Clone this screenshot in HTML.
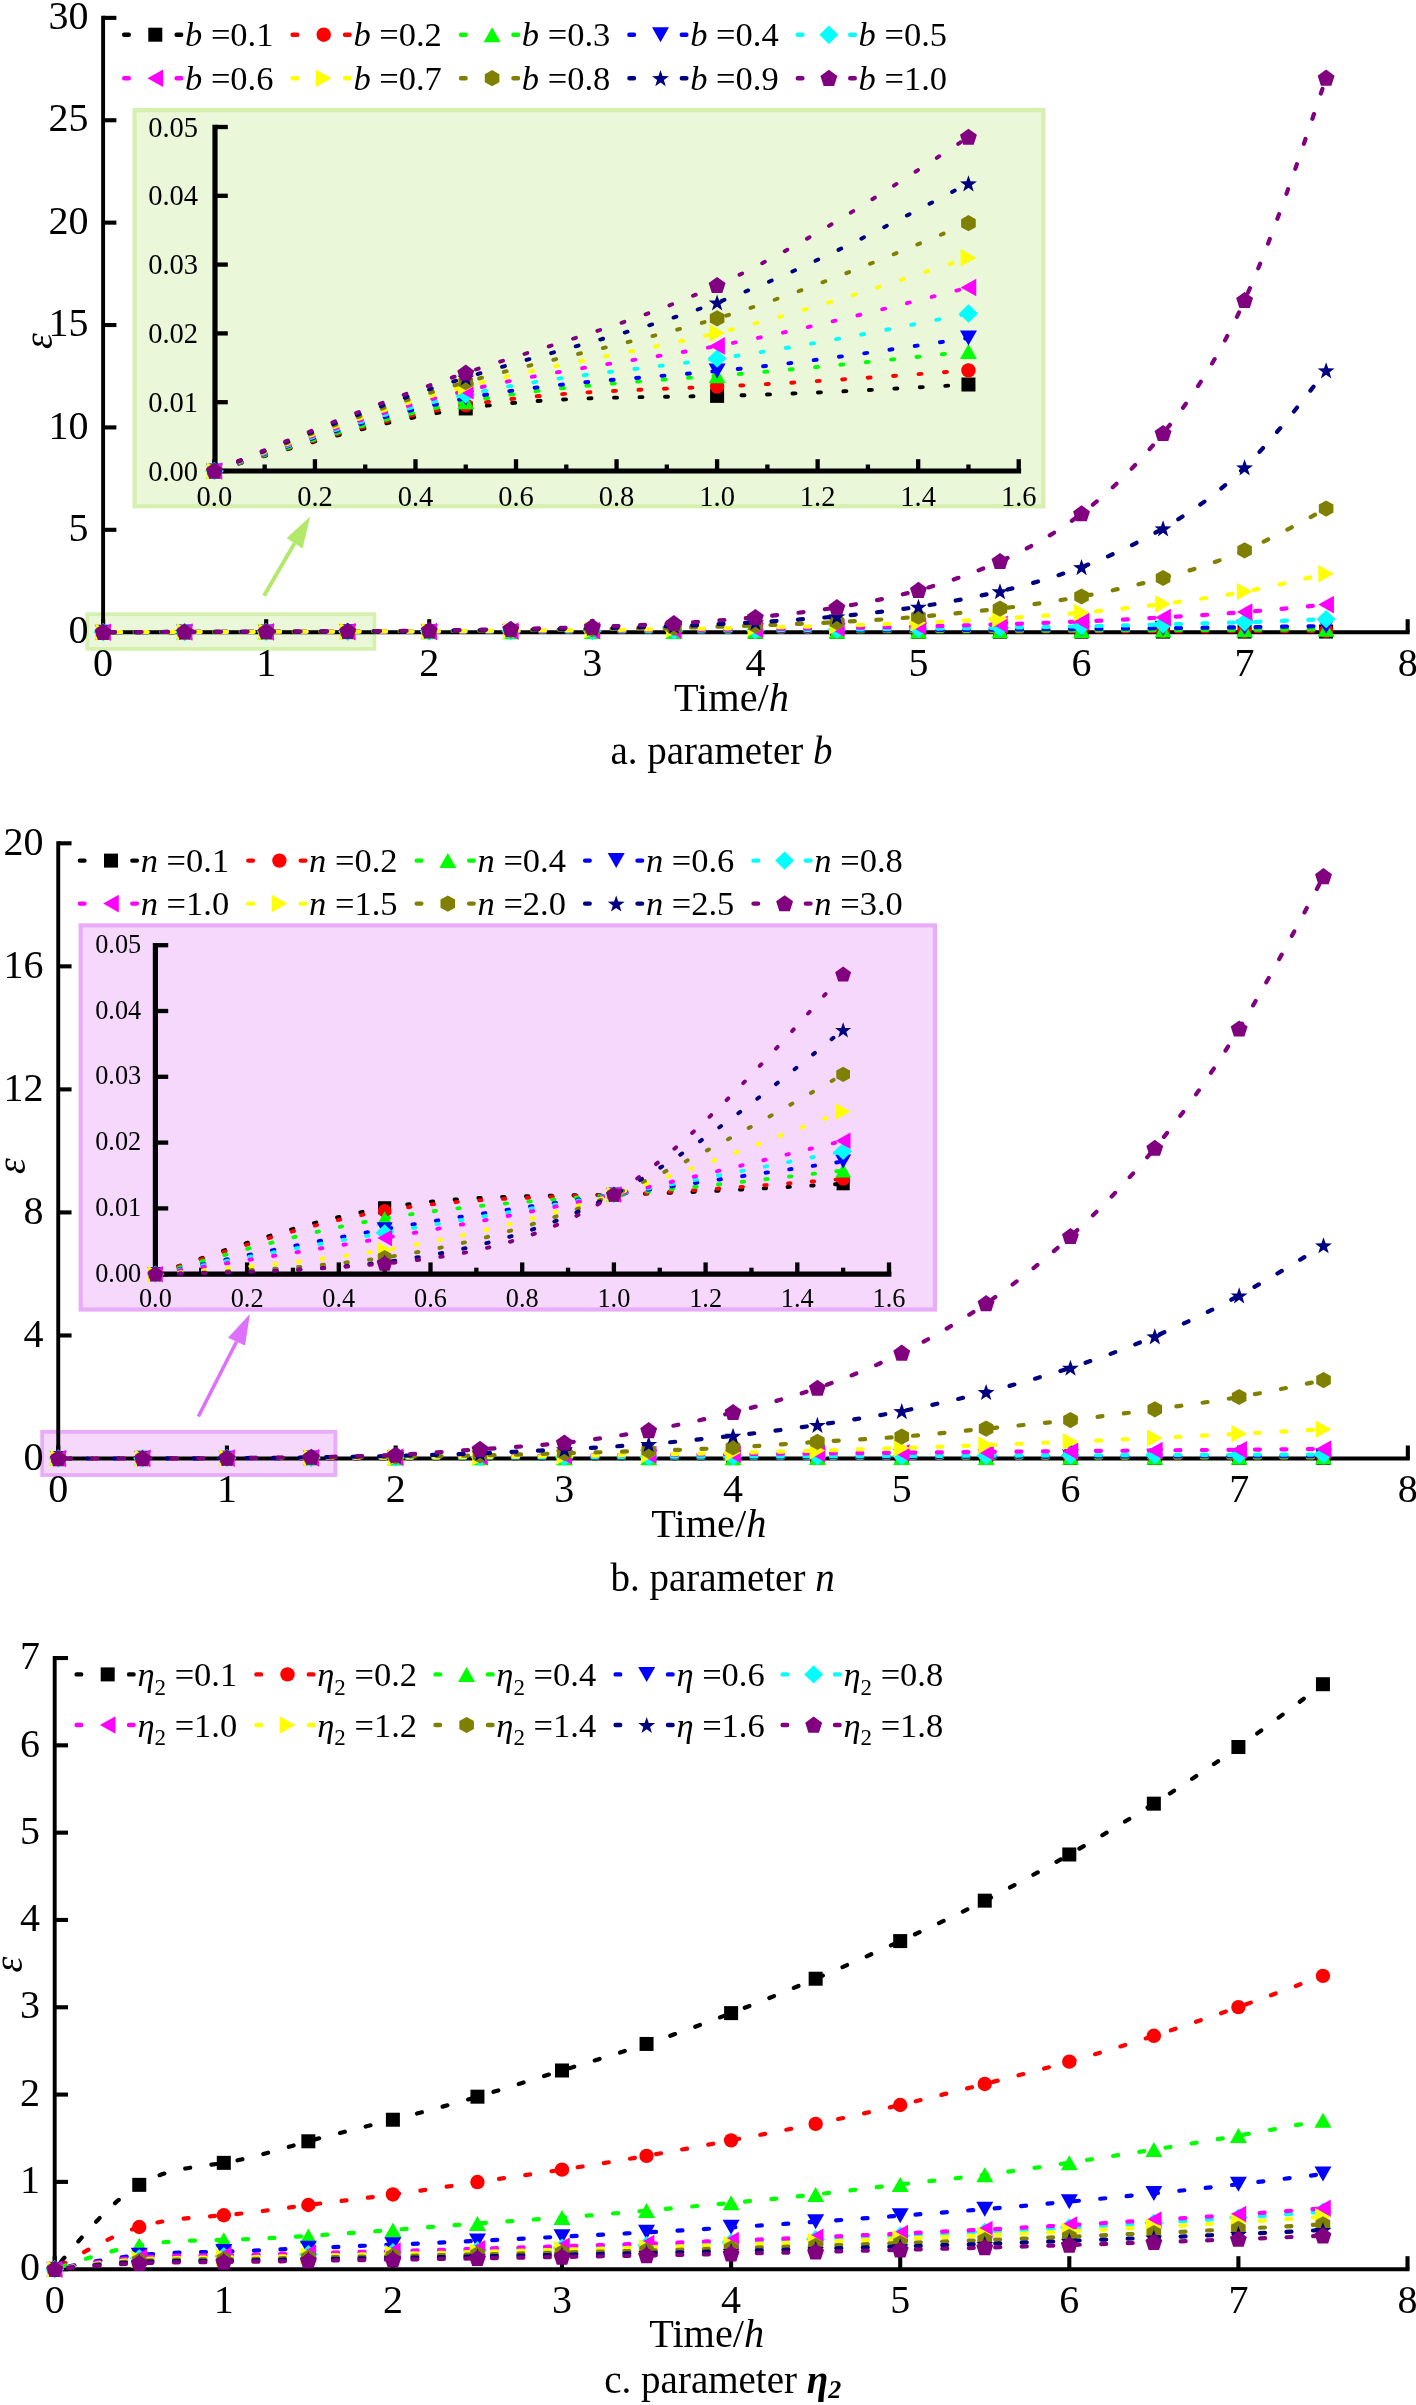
<!DOCTYPE html>
<html><head><meta charset="utf-8"><style>
html,body{margin:0;padding:0;background:#fff;}
svg{display:block;will-change:transform;}
text{font-family:"Liberation Serif", serif;fill:#000;}
</style></head><body>
<svg width="1416" height="2405" viewBox="0 0 1416 2405">
<rect width="1416" height="2405" fill="#fff"/>
<rect x="87.3" y="614.2" width="287.1" height="34.7" fill="#EAF7D8" stroke="#D6F0B0" stroke-width="3.8"/>
<path d="M103.1,15.86 V632.2 H1409.66" stroke="#000" stroke-width="3.9" fill="none" stroke-linejoin="miter"/>
<path d="M103.1,632.2 H116.4" stroke="#000" stroke-width="4.1"/>
<text x="88.6" y="643.4" font-size="40" text-anchor="end">0</text>
<path d="M103.1,529.81 H116.4" stroke="#000" stroke-width="4.1"/>
<text x="88.6" y="541.01" font-size="40" text-anchor="end">5</text>
<path d="M103.1,427.42 H116.4" stroke="#000" stroke-width="4.1"/>
<text x="88.6" y="438.62" font-size="40" text-anchor="end">10</text>
<path d="M103.1,325.03 H116.4" stroke="#000" stroke-width="4.1"/>
<text x="88.6" y="336.23" font-size="40" text-anchor="end">15</text>
<path d="M103.1,222.64 H116.4" stroke="#000" stroke-width="4.1"/>
<text x="88.6" y="233.84" font-size="40" text-anchor="end">20</text>
<path d="M103.1,120.25 H116.4" stroke="#000" stroke-width="4.1"/>
<text x="88.6" y="131.45" font-size="40" text-anchor="end">25</text>
<path d="M103.1,17.86 H116.4" stroke="#000" stroke-width="4.1"/>
<text x="88.6" y="29.06" font-size="40" text-anchor="end">30</text>
<path d="M103.1,632.2 V619.2" stroke="#000" stroke-width="4.1"/>
<text x="103.1" y="676.4" font-size="40" text-anchor="middle">0</text>
<path d="M266.17,632.2 V619.2" stroke="#000" stroke-width="4.1"/>
<text x="266.17" y="676.4" font-size="40" text-anchor="middle">1</text>
<path d="M429.24,632.2 V619.2" stroke="#000" stroke-width="4.1"/>
<text x="429.24" y="676.4" font-size="40" text-anchor="middle">2</text>
<path d="M592.31,632.2 V619.2" stroke="#000" stroke-width="4.1"/>
<text x="592.31" y="676.4" font-size="40" text-anchor="middle">3</text>
<path d="M755.38,632.2 V619.2" stroke="#000" stroke-width="4.1"/>
<text x="755.38" y="676.4" font-size="40" text-anchor="middle">4</text>
<path d="M918.45,632.2 V619.2" stroke="#000" stroke-width="4.1"/>
<text x="918.45" y="676.4" font-size="40" text-anchor="middle">5</text>
<path d="M1081.52,632.2 V619.2" stroke="#000" stroke-width="4.1"/>
<text x="1081.52" y="676.4" font-size="40" text-anchor="middle">6</text>
<path d="M1244.59,632.2 V619.2" stroke="#000" stroke-width="4.1"/>
<text x="1244.59" y="676.4" font-size="40" text-anchor="middle">7</text>
<path d="M1407.66,632.2 V619.2" stroke="#000" stroke-width="4.1"/>
<text x="1407.66" y="676.4" font-size="40" text-anchor="middle">8</text>
<path d="M103.1,632.2C130.28,632.12 157.46,632.05 184.63,632.01C211.81,631.98 238.99,631.98 266.17,631.98C293.35,631.97 320.53,631.95 347.7,631.94C374.88,631.93 402.06,631.93 429.24,631.92C456.42,631.91 483.6,631.89 510.77,631.87C537.95,631.86 565.13,631.85 592.31,631.85C619.49,631.84 646.67,631.83 673.85,631.82C701.02,631.81 728.2,631.8 755.38,631.79C782.56,631.78 809.74,631.78 836.91,631.77C864.09,631.76 891.27,631.75 918.45,631.73C945.63,631.72 972.81,631.71 999.99,631.7C1027.16,631.69 1054.34,631.68 1081.52,631.66C1108.7,631.65 1135.88,631.64 1163.05,631.63C1190.23,631.61 1217.41,631.6 1244.59,631.59C1271.77,631.58 1298.95,631.56 1326.12,631.55" stroke="#000000" stroke-width="4.2" stroke-linecap="round" stroke-dasharray="5.0 21.5" fill="none" stroke-dashoffset="13.6"/>
<rect x="96.1" y="625.2" width="14" height="14" fill="#000000"/>
<rect x="177.63" y="625.01" width="14" height="14" fill="#000000"/>
<rect x="259.17" y="624.98" width="14" height="14" fill="#000000"/>
<rect x="340.7" y="624.94" width="14" height="14" fill="#000000"/>
<rect x="422.24" y="624.92" width="14" height="14" fill="#000000"/>
<rect x="503.77" y="624.87" width="14" height="14" fill="#000000"/>
<rect x="585.31" y="624.85" width="14" height="14" fill="#000000"/>
<rect x="666.85" y="624.82" width="14" height="14" fill="#000000"/>
<rect x="748.38" y="624.79" width="14" height="14" fill="#000000"/>
<rect x="829.91" y="624.77" width="14" height="14" fill="#000000"/>
<rect x="911.45" y="624.73" width="14" height="14" fill="#000000"/>
<rect x="992.99" y="624.7" width="14" height="14" fill="#000000"/>
<rect x="1074.52" y="624.66" width="14" height="14" fill="#000000"/>
<rect x="1156.05" y="624.63" width="14" height="14" fill="#000000"/>
<rect x="1237.59" y="624.59" width="14" height="14" fill="#000000"/>
<rect x="1319.12" y="624.55" width="14" height="14" fill="#000000"/>
<path d="M103.1,632.2C130.28,632.12 157.46,632.04 184.63,632C211.81,631.96 238.99,631.96 266.17,631.95C293.35,631.94 320.53,631.91 347.7,631.9C374.88,631.89 402.06,631.88 429.24,631.86C456.42,631.84 483.6,631.8 510.77,631.78C537.95,631.75 565.13,631.74 592.31,631.72C619.49,631.71 646.67,631.69 673.85,631.66C701.02,631.64 728.2,631.62 755.38,631.59C782.56,631.57 809.74,631.55 836.91,631.52C864.09,631.5 891.27,631.46 918.45,631.43C945.63,631.4 972.81,631.36 999.99,631.33C1027.16,631.3 1054.34,631.26 1081.52,631.22C1108.7,631.19 1135.88,631.14 1163.05,631.1C1190.23,631.06 1217.41,631.02 1244.59,630.97C1271.77,630.93 1298.95,630.88 1326.12,630.83" stroke="#FF0000" stroke-width="4.2" stroke-linecap="round" stroke-dasharray="5.0 21.5" fill="none" stroke-dashoffset="13.6"/>
<circle cx="103.1" cy="632.2" r="7.2" fill="#FF0000"/>
<circle cx="184.63" cy="632" r="7.2" fill="#FF0000"/>
<circle cx="266.17" cy="631.95" r="7.2" fill="#FF0000"/>
<circle cx="347.7" cy="631.9" r="7.2" fill="#FF0000"/>
<circle cx="429.24" cy="631.86" r="7.2" fill="#FF0000"/>
<circle cx="510.77" cy="631.78" r="7.2" fill="#FF0000"/>
<circle cx="592.31" cy="631.72" r="7.2" fill="#FF0000"/>
<circle cx="673.85" cy="631.66" r="7.2" fill="#FF0000"/>
<circle cx="755.38" cy="631.59" r="7.2" fill="#FF0000"/>
<circle cx="836.91" cy="631.52" r="7.2" fill="#FF0000"/>
<circle cx="918.45" cy="631.43" r="7.2" fill="#FF0000"/>
<circle cx="999.99" cy="631.33" r="7.2" fill="#FF0000"/>
<circle cx="1081.52" cy="631.22" r="7.2" fill="#FF0000"/>
<circle cx="1163.05" cy="631.1" r="7.2" fill="#FF0000"/>
<circle cx="1244.59" cy="630.97" r="7.2" fill="#FF0000"/>
<circle cx="1326.12" cy="630.83" r="7.2" fill="#FF0000"/>
<path d="M103.1,632.2C130.28,632.12 157.46,632.04 184.63,631.99C211.81,631.95 238.99,631.94 266.17,631.92C293.35,631.9 320.53,631.86 347.7,631.84C374.88,631.82 402.06,631.81 429.24,631.78C456.42,631.75 483.6,631.7 510.77,631.66C537.95,631.62 565.13,631.59 592.31,631.56C619.49,631.52 646.67,631.48 673.85,631.44C701.02,631.4 728.2,631.35 755.38,631.3C782.56,631.25 809.74,631.2 836.91,631.14C864.09,631.08 891.27,631.01 918.45,630.93C945.63,630.86 972.81,630.78 999.99,630.69C1027.16,630.61 1054.34,630.52 1081.52,630.42C1108.7,630.32 1135.88,630.21 1163.05,630.1C1190.23,629.98 1217.41,629.86 1244.59,629.73C1271.77,629.59 1298.95,629.44 1326.12,629.29" stroke="#00FF00" stroke-width="4.2" stroke-linecap="round" stroke-dasharray="5.0 21.5" fill="none" stroke-dashoffset="13.6"/>
<polygon points="103.1,624.7 111.6,639.7 94.6,639.7" fill="#00FF00"/>
<polygon points="184.63,624.49 193.13,639.49 176.13,639.49" fill="#00FF00"/>
<polygon points="266.17,624.42 274.67,639.42 257.67,639.42" fill="#00FF00"/>
<polygon points="347.7,624.34 356.2,639.34 339.2,639.34" fill="#00FF00"/>
<polygon points="429.24,624.28 437.74,639.28 420.74,639.28" fill="#00FF00"/>
<polygon points="510.77,624.16 519.27,639.16 502.27,639.16" fill="#00FF00"/>
<polygon points="592.31,624.06 600.81,639.06 583.81,639.06" fill="#00FF00"/>
<polygon points="673.85,623.94 682.35,638.94 665.35,638.94" fill="#00FF00"/>
<polygon points="755.38,623.8 763.88,638.8 746.88,638.8" fill="#00FF00"/>
<polygon points="836.91,623.64 845.41,638.64 828.41,638.64" fill="#00FF00"/>
<polygon points="918.45,623.43 926.95,638.43 909.95,638.43" fill="#00FF00"/>
<polygon points="999.99,623.19 1008.49,638.19 991.49,638.19" fill="#00FF00"/>
<polygon points="1081.52,622.92 1090.02,637.92 1073.02,637.92" fill="#00FF00"/>
<polygon points="1163.05,622.6 1171.55,637.6 1154.55,637.6" fill="#00FF00"/>
<polygon points="1244.59,622.23 1253.09,637.23 1236.09,637.23" fill="#00FF00"/>
<polygon points="1326.12,621.79 1334.62,636.79 1317.62,636.79" fill="#00FF00"/>
<path d="M103.1,632.2C130.28,632.12 157.46,632.03 184.63,631.98C211.81,631.94 238.99,631.93 266.17,631.9C293.35,631.88 320.53,631.84 347.7,631.8C374.88,631.77 402.06,631.74 429.24,631.69C456.42,631.64 483.6,631.57 510.77,631.5C537.95,631.44 565.13,631.39 592.31,631.33C619.49,631.27 646.67,631.2 673.85,631.12C701.02,631.04 728.2,630.95 755.38,630.85C782.56,630.75 809.74,630.65 836.91,630.53C864.09,630.41 891.27,630.27 918.45,630.11C945.63,629.95 972.81,629.78 999.99,629.59C1027.16,629.4 1054.34,629.19 1081.52,628.96C1108.7,628.73 1135.88,628.46 1163.05,628.17C1190.23,627.89 1217.41,627.58 1244.59,627.22C1271.77,626.86 1298.95,626.45 1326.12,626.04" stroke="#0000FF" stroke-width="4.2" stroke-linecap="round" stroke-dasharray="5.0 21.5" fill="none" stroke-dashoffset="13.6"/>
<polygon points="103.1,639.7 111.6,624.7 94.6,624.7" fill="#0000FF"/>
<polygon points="184.63,639.48 193.13,624.48 176.13,624.48" fill="#0000FF"/>
<polygon points="266.17,639.4 274.67,624.4 257.67,624.4" fill="#0000FF"/>
<polygon points="347.7,639.3 356.2,624.3 339.2,624.3" fill="#0000FF"/>
<polygon points="429.24,639.19 437.74,624.19 420.74,624.19" fill="#0000FF"/>
<polygon points="510.77,639 519.27,624 502.27,624" fill="#0000FF"/>
<polygon points="592.31,638.83 600.81,623.83 583.81,623.83" fill="#0000FF"/>
<polygon points="673.85,638.62 682.35,623.62 665.35,623.62" fill="#0000FF"/>
<polygon points="755.38,638.35 763.88,623.35 746.88,623.35" fill="#0000FF"/>
<polygon points="836.91,638.03 845.41,623.03 828.41,623.03" fill="#0000FF"/>
<polygon points="918.45,637.61 926.95,622.61 909.95,622.61" fill="#0000FF"/>
<polygon points="999.99,637.09 1008.49,622.09 991.49,622.09" fill="#0000FF"/>
<polygon points="1081.52,636.46 1090.02,621.46 1073.02,621.46" fill="#0000FF"/>
<polygon points="1163.05,635.67 1171.55,620.67 1154.55,620.67" fill="#0000FF"/>
<polygon points="1244.59,634.72 1253.09,619.72 1236.09,619.72" fill="#0000FF"/>
<polygon points="1326.12,633.54 1334.62,618.54 1317.62,618.54" fill="#0000FF"/>
<path d="M103.1,632.2C130.28,632.11 157.46,632.03 184.63,631.97C211.81,631.92 238.99,631.9 266.17,631.87C293.35,631.83 320.53,631.78 347.7,631.73C374.88,631.69 402.06,631.65 429.24,631.58C456.42,631.51 483.6,631.4 510.77,631.31C537.95,631.21 565.13,631.13 592.31,631.03C619.49,630.92 646.67,630.81 673.85,630.67C701.02,630.53 728.2,630.36 755.38,630.19C782.56,630.01 809.74,629.82 836.91,629.59C864.09,629.35 891.27,629.08 918.45,628.76C945.63,628.44 972.81,628.07 999.99,627.67C1027.16,627.27 1054.34,626.82 1081.52,626.3C1108.7,625.77 1135.88,625.16 1163.05,624.49C1190.23,623.82 1217.41,623.08 1244.59,622.18C1271.77,621.28 1298.95,620.22 1326.12,619.16" stroke="#00FFFF" stroke-width="4.2" stroke-linecap="round" stroke-dasharray="5.0 21.5" fill="none" stroke-dashoffset="13.6"/>
<polygon points="103.1,623 112.6,632.2 103.1,641.4 93.6,632.2" fill="#00FFFF"/>
<polygon points="184.63,622.77 194.13,631.97 184.63,641.17 175.13,631.97" fill="#00FFFF"/>
<polygon points="266.17,622.67 275.67,631.87 266.17,641.07 256.67,631.87" fill="#00FFFF"/>
<polygon points="347.7,622.53 357.2,631.73 347.7,640.93 338.2,631.73" fill="#00FFFF"/>
<polygon points="429.24,622.38 438.74,631.58 429.24,640.78 419.74,631.58" fill="#00FFFF"/>
<polygon points="510.77,622.11 520.27,631.31 510.77,640.51 501.27,631.31" fill="#00FFFF"/>
<polygon points="592.31,621.83 601.81,631.03 592.31,640.23 582.81,631.03" fill="#00FFFF"/>
<polygon points="673.85,621.47 683.35,630.67 673.85,639.87 664.35,630.67" fill="#00FFFF"/>
<polygon points="755.38,620.99 764.88,630.19 755.38,639.39 745.88,630.19" fill="#00FFFF"/>
<polygon points="836.91,620.39 846.41,629.59 836.91,638.79 827.41,629.59" fill="#00FFFF"/>
<polygon points="918.45,619.56 927.95,628.76 918.45,637.96 908.95,628.76" fill="#00FFFF"/>
<polygon points="999.99,618.47 1009.49,627.67 999.99,636.87 990.49,627.67" fill="#00FFFF"/>
<polygon points="1081.52,617.1 1091.02,626.3 1081.52,635.5 1072.02,626.3" fill="#00FFFF"/>
<polygon points="1163.05,615.29 1172.55,624.49 1163.05,633.69 1153.55,624.49" fill="#00FFFF"/>
<polygon points="1244.59,612.98 1254.09,622.18 1244.59,631.38 1235.09,622.18" fill="#00FFFF"/>
<polygon points="1326.12,609.96 1335.62,619.16 1326.12,628.36 1316.62,619.16" fill="#00FFFF"/>
<path d="M103.1,632.2C130.28,632.11 157.46,632.02 184.63,631.96C211.81,631.9 238.99,631.87 266.17,631.83C293.35,631.78 320.53,631.71 347.7,631.65C374.88,631.59 402.06,631.54 429.24,631.44C456.42,631.34 483.6,631.19 510.77,631.05C537.95,630.91 565.13,630.78 592.31,630.61C619.49,630.45 646.67,630.26 673.85,630.03C701.02,629.79 728.2,629.51 755.38,629.2C782.56,628.88 809.74,628.54 836.91,628.1C864.09,627.67 891.27,627.15 918.45,626.52C945.63,625.9 972.81,625.18 999.99,624.35C1027.16,623.52 1054.34,622.59 1081.52,621.45C1108.7,620.31 1135.88,618.96 1163.05,617.43C1190.23,615.9 1217.41,614.18 1244.59,612.02C1271.77,609.85 1298.95,607.23 1326.12,604.6" stroke="#FF00FF" stroke-width="4.2" stroke-linecap="round" stroke-dasharray="5.0 21.5" fill="none" stroke-dashoffset="13.59"/>
<polygon points="95.3,632.2 110.9,623.4 110.9,641" fill="#FF00FF"/>
<polygon points="176.83,631.96 192.44,623.16 192.44,640.76" fill="#FF00FF"/>
<polygon points="258.37,631.83 273.97,623.03 273.97,640.63" fill="#FF00FF"/>
<polygon points="339.9,631.65 355.5,622.85 355.5,640.45" fill="#FF00FF"/>
<polygon points="421.44,631.44 437.04,622.64 437.04,640.24" fill="#FF00FF"/>
<polygon points="502.97,631.05 518.57,622.25 518.57,639.85" fill="#FF00FF"/>
<polygon points="584.51,630.61 600.11,621.81 600.11,639.41" fill="#FF00FF"/>
<polygon points="666.05,630.03 681.64,621.23 681.64,638.83" fill="#FF00FF"/>
<polygon points="747.58,629.2 763.18,620.4 763.18,638" fill="#FF00FF"/>
<polygon points="829.12,628.1 844.71,619.3 844.71,636.9" fill="#FF00FF"/>
<polygon points="910.65,626.52 926.25,617.72 926.25,635.32" fill="#FF00FF"/>
<polygon points="992.19,624.35 1007.78,615.55 1007.78,633.15" fill="#FF00FF"/>
<polygon points="1073.72,621.45 1089.32,612.65 1089.32,630.25" fill="#FF00FF"/>
<polygon points="1155.25,617.43 1170.85,608.63 1170.85,626.23" fill="#FF00FF"/>
<polygon points="1236.79,612.02 1252.39,603.22 1252.39,620.82" fill="#FF00FF"/>
<polygon points="1318.32,604.6 1333.92,595.8 1333.92,613.4" fill="#FF00FF"/>
<path d="M103.1,632.2C130.28,632.11 157.46,632.01 184.63,631.95C211.81,631.88 238.99,631.85 266.17,631.79C293.35,631.73 320.53,631.65 347.7,631.57C374.88,631.48 402.06,631.41 429.24,631.27C456.42,631.13 483.6,630.93 510.77,630.73C537.95,630.52 565.13,630.32 592.31,630.06C619.49,629.8 646.67,629.5 673.85,629.12C701.02,628.73 728.2,628.26 755.38,627.72C782.56,627.18 809.74,626.56 836.91,625.77C864.09,624.98 891.27,624.02 918.45,622.84C945.63,621.66 972.81,620.25 999.99,618.59C1027.16,616.93 1054.34,615.01 1081.52,612.6C1108.7,610.19 1135.88,607.29 1163.05,603.91C1190.23,600.52 1217.41,596.66 1244.59,591.56C1271.77,586.45 1298.95,580.12 1326.12,573.78" stroke="#FFFF00" stroke-width="4.2" stroke-linecap="round" stroke-dasharray="5.0 21.5" fill="none" stroke-dashoffset="13.58"/>
<polygon points="110.9,632.2 95.3,623.4 95.3,641" fill="#FFFF00"/>
<polygon points="192.44,631.95 176.83,623.15 176.83,640.75" fill="#FFFF00"/>
<polygon points="273.97,631.79 258.37,622.99 258.37,640.59" fill="#FFFF00"/>
<polygon points="355.5,631.57 339.9,622.77 339.9,640.37" fill="#FFFF00"/>
<polygon points="437.04,631.27 421.44,622.47 421.44,640.07" fill="#FFFF00"/>
<polygon points="518.57,630.73 502.97,621.93 502.97,639.53" fill="#FFFF00"/>
<polygon points="600.11,630.06 584.51,621.26 584.51,638.86" fill="#FFFF00"/>
<polygon points="681.64,629.12 666.05,620.32 666.05,637.92" fill="#FFFF00"/>
<polygon points="763.18,627.72 747.58,618.92 747.58,636.52" fill="#FFFF00"/>
<polygon points="844.71,625.77 829.12,616.97 829.12,634.57" fill="#FFFF00"/>
<polygon points="926.25,622.84 910.65,614.04 910.65,631.64" fill="#FFFF00"/>
<polygon points="1007.78,618.59 992.19,609.79 992.19,627.39" fill="#FFFF00"/>
<polygon points="1089.32,612.6 1073.72,603.8 1073.72,621.4" fill="#FFFF00"/>
<polygon points="1170.85,603.91 1155.25,595.11 1155.25,612.71" fill="#FFFF00"/>
<polygon points="1252.39,591.56 1236.79,582.76 1236.79,600.36" fill="#FFFF00"/>
<polygon points="1333.92,573.78 1318.32,564.98 1318.32,582.58" fill="#FFFF00"/>
<path d="M103.1,632.2C130.28,632.1 157.46,632.01 184.63,631.94C211.81,631.87 238.99,631.82 266.17,631.75C293.35,631.67 320.53,631.57 347.7,631.46C374.88,631.36 402.06,631.25 429.24,631.06C456.42,630.87 483.6,630.6 510.77,630.31C537.95,630.02 565.13,629.7 592.31,629.31C619.49,628.92 646.67,628.44 673.85,627.82C701.02,627.2 728.2,626.44 755.38,625.52C782.56,624.6 809.74,623.52 836.91,622.12C864.09,620.71 891.27,618.98 918.45,616.77C945.63,614.56 972.81,611.88 999.99,608.62C1027.16,605.35 1054.34,601.49 1081.52,596.49C1108.7,591.49 1135.88,585.34 1163.05,578C1190.23,570.66 1217.41,562.13 1244.59,550.35C1271.77,538.57 1298.95,523.55 1326.12,508.53" stroke="#808000" stroke-width="4.2" stroke-linecap="round" stroke-dasharray="5.0 21.5" fill="none" stroke-dashoffset="21.63"/>
<polygon points="103.1,624.1 110.4,628.15 110.4,636.25 103.1,640.3 95.8,636.25 95.8,628.15" fill="#808000"/>
<polygon points="184.63,623.84 191.94,627.89 191.94,635.99 184.63,640.04 177.33,635.99 177.33,627.89" fill="#808000"/>
<polygon points="266.17,623.65 273.47,627.7 273.47,635.8 266.17,639.85 258.87,635.8 258.87,627.7" fill="#808000"/>
<polygon points="347.7,623.36 355,627.41 355,635.51 347.7,639.56 340.4,635.51 340.4,627.41" fill="#808000"/>
<polygon points="429.24,622.96 436.54,627.01 436.54,635.11 429.24,639.16 421.94,635.11 421.94,627.01" fill="#808000"/>
<polygon points="510.77,622.21 518.07,626.26 518.07,634.36 510.77,638.41 503.47,634.36 503.47,626.26" fill="#808000"/>
<polygon points="592.31,621.21 599.61,625.26 599.61,633.36 592.31,637.41 585.01,633.36 585.01,625.26" fill="#808000"/>
<polygon points="673.85,619.72 681.14,623.77 681.14,631.87 673.85,635.92 666.55,631.87 666.55,623.77" fill="#808000"/>
<polygon points="755.38,617.42 762.68,621.47 762.68,629.57 755.38,633.62 748.08,629.57 748.08,621.47" fill="#808000"/>
<polygon points="836.91,614.02 844.21,618.07 844.21,626.17 836.91,630.22 829.62,626.17 829.62,618.07" fill="#808000"/>
<polygon points="918.45,608.67 925.75,612.72 925.75,620.82 918.45,624.87 911.15,620.82 911.15,612.72" fill="#808000"/>
<polygon points="999.99,600.52 1007.28,604.57 1007.28,612.67 999.99,616.72 992.69,612.67 992.69,604.57" fill="#808000"/>
<polygon points="1081.52,588.39 1088.82,592.44 1088.82,600.54 1081.52,604.59 1074.22,600.54 1074.22,592.44" fill="#808000"/>
<polygon points="1163.05,569.9 1170.35,573.95 1170.35,582.05 1163.05,586.1 1155.75,582.05 1155.75,573.95" fill="#808000"/>
<polygon points="1244.59,542.25 1251.89,546.3 1251.89,554.4 1244.59,558.45 1237.29,554.4 1237.29,546.3" fill="#808000"/>
<polygon points="1326.12,500.43 1333.42,504.48 1333.42,512.58 1326.12,516.63 1318.82,512.58 1318.82,504.48" fill="#808000"/>
<path d="M103.1,632.2C130.28,632.1 157.46,632 184.63,631.92C211.81,631.84 238.99,631.79 266.17,631.7C293.35,631.61 320.53,631.48 347.7,631.34C374.88,631.21 402.06,631.07 429.24,630.81C456.42,630.56 483.6,630.19 510.77,629.77C537.95,629.36 565.13,628.9 592.31,628.3C619.49,627.7 646.67,626.97 673.85,625.99C701.02,625 728.2,623.77 755.38,622.23C782.56,620.7 809.74,618.86 836.91,616.39C864.09,613.92 891.27,610.83 918.45,606.76C945.63,602.69 972.81,597.65 999.99,591.32C1027.16,584.99 1054.34,577.37 1081.52,567.14C1108.7,556.91 1135.88,544.06 1163.05,528.38C1190.23,512.7 1217.41,494.18 1244.59,467.38C1271.77,440.57 1298.95,405.48 1326.12,370.38" stroke="#000080" stroke-width="4.2" stroke-linecap="round" stroke-dasharray="5.0 21.5" fill="none" stroke-dashoffset="20.43"/>
<polygon points="103.1,624.1 105.19,630.12 111.56,630.25 106.49,634.1 108.33,640.2 103.1,636.56 97.87,640.2 99.71,634.1 94.64,630.25 101.01,630.12" fill="#000080"/>
<polygon points="184.63,623.82 186.73,629.84 193.1,629.97 188.02,633.82 189.87,639.92 184.63,636.28 179.4,639.92 181.25,633.82 176.17,629.97 182.54,629.84" fill="#000080"/>
<polygon points="266.17,623.6 268.26,629.62 274.63,629.75 269.56,633.6 271.4,639.7 266.17,636.06 260.94,639.7 262.78,633.6 257.71,629.75 264.08,629.62" fill="#000080"/>
<polygon points="347.7,623.24 349.8,629.26 356.17,629.39 351.09,633.24 352.94,639.34 347.7,635.7 342.47,639.34 344.32,633.24 339.24,629.39 345.61,629.26" fill="#000080"/>
<polygon points="429.24,622.71 431.33,628.73 437.7,628.86 432.63,632.71 434.47,638.81 429.24,635.17 424.01,638.81 425.85,632.71 420.78,628.86 427.15,628.73" fill="#000080"/>
<polygon points="510.77,621.67 512.87,627.69 519.24,627.82 514.16,631.67 516.01,637.77 510.77,634.13 505.54,637.77 507.39,631.67 502.31,627.82 508.68,627.69" fill="#000080"/>
<polygon points="592.31,620.2 594.4,626.22 600.77,626.35 595.7,630.2 597.54,636.3 592.31,632.66 587.08,636.3 588.92,630.2 583.85,626.35 590.22,626.22" fill="#000080"/>
<polygon points="673.85,617.89 675.94,623.91 682.31,624.04 677.23,627.89 679.08,633.99 673.85,630.35 668.61,633.99 670.46,627.89 665.38,624.04 671.75,623.91" fill="#000080"/>
<polygon points="755.38,614.13 757.47,620.15 763.84,620.28 758.77,624.13 760.61,630.23 755.38,626.59 750.15,630.23 751.99,624.13 746.92,620.28 753.29,620.15" fill="#000080"/>
<polygon points="836.91,608.29 839.01,614.31 845.38,614.44 840.3,618.29 842.15,624.39 836.91,620.75 831.68,624.39 833.53,618.29 828.45,614.44 834.82,614.31" fill="#000080"/>
<polygon points="918.45,598.66 920.54,604.68 926.91,604.81 921.84,608.66 923.68,614.76 918.45,611.12 913.22,614.76 915.06,608.66 909.99,604.81 916.36,604.68" fill="#000080"/>
<polygon points="999.99,583.22 1002.08,589.24 1008.45,589.37 1003.37,593.22 1005.22,599.32 999.99,595.68 994.75,599.32 996.6,593.22 991.52,589.37 997.89,589.24" fill="#000080"/>
<polygon points="1081.52,559.04 1083.61,565.06 1089.98,565.19 1084.91,569.04 1086.75,575.14 1081.52,571.5 1076.29,575.14 1078.13,569.04 1073.06,565.19 1079.43,565.06" fill="#000080"/>
<polygon points="1163.05,520.28 1165.15,526.3 1171.52,526.43 1166.44,530.28 1168.29,536.38 1163.05,532.74 1157.82,536.38 1159.67,530.28 1154.59,526.43 1160.96,526.3" fill="#000080"/>
<polygon points="1244.59,459.28 1246.68,465.3 1253.05,465.43 1247.98,469.28 1249.82,475.38 1244.59,471.74 1239.36,475.38 1241.2,469.28 1236.13,465.43 1242.5,465.3" fill="#000080"/>
<polygon points="1326.12,362.28 1328.22,368.3 1334.59,368.43 1329.51,372.28 1331.36,378.38 1326.12,374.74 1320.89,378.38 1322.74,372.28 1317.66,368.43 1324.03,368.3" fill="#000080"/>
<path d="M103.1,632.2C130.28,632.1 157.46,631.99 184.63,631.91C211.81,631.82 238.99,631.76 266.17,631.65C293.35,631.54 320.53,631.38 347.7,631.21C374.88,631.03 402.06,630.85 429.24,630.51C456.42,630.16 483.6,629.67 510.77,629.08C537.95,628.5 565.13,627.83 592.31,626.94C619.49,626.04 646.67,624.93 673.85,623.38C701.02,621.84 728.2,619.87 755.38,617.33C782.56,614.79 809.74,611.69 836.91,607.41C864.09,603.13 891.27,597.67 918.45,590.26C945.63,582.84 972.81,573.47 999.99,561.35C1027.16,549.22 1054.34,534.35 1081.52,513.65C1108.7,492.95 1135.88,466.42 1163.05,433.34C1190.23,400.25 1217.41,360.61 1244.59,300.29C1271.77,239.96 1298.95,158.95 1326.12,77.93" stroke="#800080" stroke-width="4.2" stroke-linecap="round" stroke-dasharray="5.0 21.5" fill="none" stroke-dashoffset="19.46"/>
<polygon points="103.1,623.8 111.56,629.95 108.33,639.9 97.87,639.9 94.64,629.95" fill="#800080"/>
<polygon points="184.63,623.51 193.1,629.66 189.87,639.61 179.4,639.61 176.17,629.66" fill="#800080"/>
<polygon points="266.17,623.25 274.63,629.4 271.4,639.35 260.94,639.35 257.71,629.4" fill="#800080"/>
<polygon points="347.7,622.81 356.17,628.96 352.94,638.91 342.47,638.91 339.24,628.96" fill="#800080"/>
<polygon points="429.24,622.11 437.7,628.26 434.47,638.21 424.01,638.21 420.78,628.26" fill="#800080"/>
<polygon points="510.77,620.68 519.24,626.83 516.01,636.78 505.54,636.78 502.31,626.83" fill="#800080"/>
<polygon points="592.31,618.54 600.77,624.68 597.54,634.64 587.08,634.64 583.85,624.68" fill="#800080"/>
<polygon points="673.85,614.98 682.31,621.13 679.08,631.08 668.61,631.08 665.38,621.13" fill="#800080"/>
<polygon points="755.38,608.93 763.84,615.08 760.61,625.03 750.15,625.03 746.92,615.08" fill="#800080"/>
<polygon points="836.91,599.01 845.38,605.16 842.15,615.11 831.68,615.11 828.45,605.16" fill="#800080"/>
<polygon points="918.45,581.86 926.91,588.01 923.68,597.96 913.22,597.96 909.99,588.01" fill="#800080"/>
<polygon points="999.99,552.95 1008.45,559.1 1005.22,569.05 994.75,569.05 991.52,559.1" fill="#800080"/>
<polygon points="1081.52,505.25 1089.98,511.4 1086.75,521.35 1076.29,521.35 1073.06,511.4" fill="#800080"/>
<polygon points="1163.05,424.94 1171.52,431.09 1168.29,441.04 1157.82,441.04 1154.59,431.09" fill="#800080"/>
<polygon points="1244.59,291.89 1253.05,298.04 1249.82,307.99 1239.36,307.99 1236.13,298.04" fill="#800080"/>
<polygon points="1326.12,69.53 1334.59,75.68 1331.36,85.63 1320.89,85.63 1317.66,75.68" fill="#800080"/>
<rect x="134.6" y="110.1" width="908.8" height="396.2" fill="#EAF7D8" stroke="#D6F0B0" stroke-width="4.2"/>
<path d="M215,124.8 V471 H1021.12" stroke="#000" stroke-width="5.2" fill="none"/>
<path d="M215,471 H227.8" stroke="#000" stroke-width="4.3"/>
<text x="198" y="480.5" font-size="28.5" text-anchor="end">0.00</text>
<path d="M215,402.2 H227.8" stroke="#000" stroke-width="4.3"/>
<text x="198" y="411.7" font-size="28.5" text-anchor="end">0.01</text>
<path d="M215,333.4 H227.8" stroke="#000" stroke-width="4.3"/>
<text x="198" y="342.9" font-size="28.5" text-anchor="end">0.02</text>
<path d="M215,264.6 H227.8" stroke="#000" stroke-width="4.3"/>
<text x="198" y="274.1" font-size="28.5" text-anchor="end">0.03</text>
<path d="M215,195.8 H227.8" stroke="#000" stroke-width="4.3"/>
<text x="198" y="205.3" font-size="28.5" text-anchor="end">0.04</text>
<path d="M215,127 H227.8" stroke="#000" stroke-width="4.3"/>
<text x="198" y="136.5" font-size="28.5" text-anchor="end">0.05</text>
<path d="M214.4,471 V459.2" stroke="#000" stroke-width="4.3"/>
<text x="214.4" y="506.3" font-size="28.5" text-anchor="middle">0.0</text>
<path d="M264.67,471 V464.5" stroke="#000" stroke-width="4.3"/>
<path d="M314.94,471 V459.2" stroke="#000" stroke-width="4.3"/>
<text x="314.94" y="506.3" font-size="28.5" text-anchor="middle">0.2</text>
<path d="M365.21,471 V464.5" stroke="#000" stroke-width="4.3"/>
<path d="M415.48,471 V459.2" stroke="#000" stroke-width="4.3"/>
<text x="415.48" y="506.3" font-size="28.5" text-anchor="middle">0.4</text>
<path d="M465.75,471 V464.5" stroke="#000" stroke-width="4.3"/>
<path d="M516.02,471 V459.2" stroke="#000" stroke-width="4.3"/>
<text x="516.02" y="506.3" font-size="28.5" text-anchor="middle">0.6</text>
<path d="M566.29,471 V464.5" stroke="#000" stroke-width="4.3"/>
<path d="M616.56,471 V459.2" stroke="#000" stroke-width="4.3"/>
<text x="616.56" y="506.3" font-size="28.5" text-anchor="middle">0.8</text>
<path d="M666.83,471 V464.5" stroke="#000" stroke-width="4.3"/>
<path d="M717.1,471 V459.2" stroke="#000" stroke-width="4.3"/>
<text x="717.1" y="506.3" font-size="28.5" text-anchor="middle">1.0</text>
<path d="M767.37,471 V464.5" stroke="#000" stroke-width="4.3"/>
<path d="M817.64,471 V459.2" stroke="#000" stroke-width="4.3"/>
<text x="817.64" y="506.3" font-size="28.5" text-anchor="middle">1.2</text>
<path d="M867.91,471 V464.5" stroke="#000" stroke-width="4.3"/>
<path d="M918.18,471 V459.2" stroke="#000" stroke-width="4.3"/>
<text x="918.18" y="506.3" font-size="28.5" text-anchor="middle">1.4</text>
<path d="M968.45,471 V464.5" stroke="#000" stroke-width="4.3"/>
<path d="M1018.72,471 V459.2" stroke="#000" stroke-width="4.3"/>
<text x="1018.72" y="506.3" font-size="28.5" text-anchor="middle">1.6</text>
<path d="M214.4,471C298.18,445.73 381.97,420.46 465.75,408.44C549.53,396.42 633.32,397.65 717.1,395.87C800.88,394.09 884.67,389.29 968.45,384.5" stroke="#000000" stroke-width="3.9" stroke-linecap="round" stroke-dasharray="3.0 22.5" fill="none"/>
<rect x="207.4" y="464" width="14" height="14" fill="#000000"/>
<rect x="458.75" y="401.44" width="14" height="14" fill="#000000"/>
<rect x="710.1" y="388.87" width="14" height="14" fill="#000000"/>
<rect x="961.45" y="377.5" width="14" height="14" fill="#000000"/>
<path d="M214.4,471C298.18,444.94 381.97,418.88 465.75,405.23C549.53,391.57 633.32,390.32 717.1,386.58C800.88,382.84 884.67,376.62 968.45,370.4" stroke="#FF0000" stroke-width="3.9" stroke-linecap="round" stroke-dasharray="3.0 22.5" fill="none"/>
<circle cx="214.4" cy="471" r="7.2" fill="#FF0000"/>
<circle cx="465.75" cy="405.23" r="7.2" fill="#FF0000"/>
<circle cx="717.1" cy="386.58" r="7.2" fill="#FF0000"/>
<circle cx="968.45" cy="370.4" r="7.2" fill="#FF0000"/>
<path d="M214.4,471C298.18,444.17 381.97,417.35 465.75,401.86C549.53,386.37 633.32,382.22 717.1,375.71C800.88,369.21 884.67,360.35 968.45,351.5" stroke="#00FF00" stroke-width="3.9" stroke-linecap="round" stroke-dasharray="3.0 22.5" fill="none"/>
<polygon points="214.4,463.5 222.9,478.5 205.9,478.5" fill="#00FF00"/>
<polygon points="465.75,394.36 474.25,409.36 457.25,409.36" fill="#00FF00"/>
<polygon points="717.1,368.21 725.6,383.21 708.6,383.21" fill="#00FF00"/>
<polygon points="968.45,344 976.95,359 959.95,359" fill="#00FF00"/>
<path d="M214.4,471C298.18,442.6 381.97,414.19 465.75,398.31C549.53,382.43 633.32,379.07 717.1,371.1C800.88,363.14 884.67,350.57 968.45,338" stroke="#0000FF" stroke-width="3.9" stroke-linecap="round" stroke-dasharray="3.0 22.5" fill="none"/>
<polygon points="214.4,478.5 222.9,463.5 205.9,463.5" fill="#0000FF"/>
<polygon points="465.75,405.81 474.25,390.81 457.25,390.81" fill="#0000FF"/>
<polygon points="717.1,378.6 725.6,363.6 708.6,363.6" fill="#0000FF"/>
<polygon points="968.45,345.5 976.95,330.5 959.95,330.5" fill="#0000FF"/>
<path d="M214.4,471C298.18,441.73 381.97,412.47 465.75,394.59C549.53,376.7 633.32,370.2 717.1,358.58C800.88,346.96 884.67,330.23 968.45,313.5" stroke="#00FFFF" stroke-width="3.9" stroke-linecap="round" stroke-dasharray="3.0 22.5" fill="none"/>
<polygon points="214.4,461.8 223.9,471 214.4,480.2 204.9,471" fill="#00FFFF"/>
<polygon points="465.75,385.39 475.25,394.59 465.75,403.79 456.25,394.59" fill="#00FFFF"/>
<polygon points="717.1,349.38 726.6,358.58 717.1,367.78 707.6,358.58" fill="#00FFFF"/>
<polygon points="968.45,304.3 977.95,313.5 968.45,322.7 958.95,313.5" fill="#00FFFF"/>
<path d="M214.4,471C298.18,440.76 381.97,410.51 465.75,390.67C549.53,370.82 633.32,361.38 717.1,345.92C800.88,330.46 884.67,308.98 968.45,287.5" stroke="#FF00FF" stroke-width="3.9" stroke-linecap="round" stroke-dasharray="3.0 22.5" fill="none"/>
<polygon points="206.6,471 222.2,462.2 222.2,479.8" fill="#FF00FF"/>
<polygon points="457.95,390.67 473.55,381.87 473.55,399.47" fill="#FF00FF"/>
<polygon points="709.3,345.92 724.9,337.12 724.9,354.72" fill="#FF00FF"/>
<polygon points="960.65,287.5 976.25,278.7 976.25,296.3" fill="#FF00FF"/>
<path d="M214.4,471C298.18,439.62 381.97,408.24 465.75,386.55C549.53,364.86 633.32,352.85 717.1,332.99C800.88,313.13 884.67,285.41 968.45,257.7" stroke="#FFFF00" stroke-width="3.9" stroke-linecap="round" stroke-dasharray="3.0 22.5" fill="none"/>
<polygon points="222.2,471 206.6,462.2 206.6,479.8" fill="#FFFF00"/>
<polygon points="473.55,386.55 457.95,377.75 457.95,395.35" fill="#FFFF00"/>
<polygon points="724.9,332.99 709.3,324.19 709.3,341.79" fill="#FFFF00"/>
<polygon points="976.25,257.7 960.65,248.9 960.65,266.5" fill="#FFFF00"/>
<path d="M214.4,471C298.18,438.49 381.97,405.98 465.75,382.22C549.53,358.46 633.32,343.45 717.1,318.4C800.88,293.36 884.67,258.28 968.45,223.2" stroke="#808000" stroke-width="3.9" stroke-linecap="round" stroke-dasharray="3.0 22.5" fill="none"/>
<polygon points="214.4,462.9 221.7,466.95 221.7,475.05 214.4,479.1 207.1,475.05 207.1,466.95" fill="#808000"/>
<polygon points="465.75,374.12 473.05,378.17 473.05,386.27 465.75,390.32 458.45,386.27 458.45,378.17" fill="#808000"/>
<polygon points="717.1,310.3 724.4,314.35 724.4,322.45 717.1,326.5 709.8,322.45 709.8,314.35" fill="#808000"/>
<polygon points="968.45,215.1 975.75,219.15 975.75,227.25 968.45,231.3 961.15,227.25 961.15,219.15" fill="#808000"/>
<path d="M214.4,471C298.18,437.3 381.97,403.59 465.75,377.67C549.53,351.74 633.32,333.59 717.1,302.51C800.88,271.43 884.67,227.41 968.45,183.4" stroke="#000080" stroke-width="3.9" stroke-linecap="round" stroke-dasharray="3.0 22.5" fill="none"/>
<polygon points="214.4,462.9 216.49,468.92 222.86,469.05 217.79,472.9 219.63,479 214.4,475.36 209.17,479 211.01,472.9 205.94,469.05 212.31,468.92" fill="#000080"/>
<polygon points="465.75,369.57 467.84,375.59 474.21,375.72 469.14,379.57 470.98,385.67 465.75,382.03 460.52,385.67 462.36,379.57 457.29,375.72 463.66,375.59" fill="#000080"/>
<polygon points="717.1,294.41 719.19,300.43 725.56,300.56 720.49,304.41 722.33,310.51 717.1,306.87 711.87,310.51 713.71,304.41 708.64,300.56 715.01,300.43" fill="#000080"/>
<polygon points="968.45,175.3 970.54,181.32 976.91,181.45 971.84,185.3 973.68,191.4 968.45,187.76 963.22,191.4 965.06,185.3 959.99,181.45 966.36,181.32" fill="#000080"/>
<path d="M214.4,471C298.18,436.01 381.97,401.02 465.75,372.88C549.53,344.74 633.32,323.46 717.1,285.31C800.88,247.15 884.67,192.13 968.45,137.1" stroke="#800080" stroke-width="3.9" stroke-linecap="round" stroke-dasharray="3.0 22.5" fill="none"/>
<polygon points="214.4,462.6 222.86,468.75 219.63,478.7 209.17,478.7 205.94,468.75" fill="#800080"/>
<polygon points="465.75,364.48 474.21,370.63 470.98,380.58 460.52,380.58 457.29,370.63" fill="#800080"/>
<polygon points="717.1,276.91 725.56,283.06 722.33,293.01 711.87,293.01 708.64,283.06" fill="#800080"/>
<polygon points="968.45,128.7 976.91,134.85 973.68,144.8 963.22,144.8 959.99,134.85" fill="#800080"/>
<path d="M264,595.7 L294.55,543.25" stroke="#B4E86A" stroke-width="3.9"/>
<polygon points="310.3,516.6 286.6,538.1 302.5,548.4" fill="#B4E86A"/>
<path d="M124.2,34.7 h4.6 M176.6,34.7 h4.6" stroke="#000000" stroke-width="4.4" stroke-linecap="round" fill="none"/>
<rect x="148.3" y="27.7" width="14" height="14" fill="#000000"/>
<text x="185" y="46.3" font-size="34.5"><tspan font-style="italic">b</tspan> =0.1</text>
<path d="M292.6,34.7 h4.6 M345,34.7 h4.6" stroke="#FF0000" stroke-width="4.4" stroke-linecap="round" fill="none"/>
<circle cx="323.7" cy="34.7" r="7.2" fill="#FF0000"/>
<text x="353.4" y="46.3" font-size="34.5"><tspan font-style="italic">b</tspan> =0.2</text>
<path d="M461,34.7 h4.6 M513.4,34.7 h4.6" stroke="#00FF00" stroke-width="4.4" stroke-linecap="round" fill="none"/>
<polygon points="492.1,27.2 500.6,42.2 483.6,42.2" fill="#00FF00"/>
<text x="521.8" y="46.3" font-size="34.5"><tspan font-style="italic">b</tspan> =0.3</text>
<path d="M629.4,34.7 h4.6 M681.8,34.7 h4.6" stroke="#0000FF" stroke-width="4.4" stroke-linecap="round" fill="none"/>
<polygon points="660.5,42.2 669,27.2 652,27.2" fill="#0000FF"/>
<text x="690.2" y="46.3" font-size="34.5"><tspan font-style="italic">b</tspan> =0.4</text>
<path d="M797.8,34.7 h4.6 M850.2,34.7 h4.6" stroke="#00FFFF" stroke-width="4.4" stroke-linecap="round" fill="none"/>
<polygon points="828.9,25.5 838.4,34.7 828.9,43.9 819.4,34.7" fill="#00FFFF"/>
<text x="858.6" y="46.3" font-size="34.5"><tspan font-style="italic">b</tspan> =0.5</text>
<path d="M124.2,78.2 h4.6 M176.6,78.2 h4.6" stroke="#FF00FF" stroke-width="4.4" stroke-linecap="round" fill="none"/>
<polygon points="147.5,78.2 163.1,69.4 163.1,87" fill="#FF00FF"/>
<text x="185" y="89.8" font-size="34.5"><tspan font-style="italic">b</tspan> =0.6</text>
<path d="M292.6,78.2 h4.6 M345,78.2 h4.6" stroke="#FFFF00" stroke-width="4.4" stroke-linecap="round" fill="none"/>
<polygon points="331.5,78.2 315.9,69.4 315.9,87" fill="#FFFF00"/>
<text x="353.4" y="89.8" font-size="34.5"><tspan font-style="italic">b</tspan> =0.7</text>
<path d="M461,78.2 h4.6 M513.4,78.2 h4.6" stroke="#808000" stroke-width="4.4" stroke-linecap="round" fill="none"/>
<polygon points="492.1,70.1 499.4,74.15 499.4,82.25 492.1,86.3 484.8,82.25 484.8,74.15" fill="#808000"/>
<text x="521.8" y="89.8" font-size="34.5"><tspan font-style="italic">b</tspan> =0.8</text>
<path d="M629.4,78.2 h4.6 M681.8,78.2 h4.6" stroke="#000080" stroke-width="4.4" stroke-linecap="round" fill="none"/>
<polygon points="660.5,70.1 662.59,76.12 668.96,76.25 663.89,80.1 665.73,86.2 660.5,82.56 655.27,86.2 657.11,80.1 652.04,76.25 658.41,76.12" fill="#000080"/>
<text x="690.2" y="89.8" font-size="34.5"><tspan font-style="italic">b</tspan> =0.9</text>
<path d="M797.8,78.2 h4.6 M850.2,78.2 h4.6" stroke="#800080" stroke-width="4.4" stroke-linecap="round" fill="none"/>
<polygon points="828.9,69.8 837.36,75.95 834.13,85.9 823.67,85.9 820.44,75.95" fill="#800080"/>
<text x="858.6" y="89.8" font-size="34.5"><tspan font-style="italic">b</tspan> =1.0</text>
<text x="0" y="0" font-size="40" font-style="italic" text-anchor="middle" transform="translate(51.7,341.1) rotate(-90)">ε</text>
<text x="673.9" y="710.8" font-size="40.3">Time/<tspan font-style="italic">h</tspan></text>
<text x="610.5" y="763.8" font-size="39">a. parameter <tspan font-style="italic">b</tspan></text>
<rect x="42.2" y="1431.8" width="293.2" height="43.2" fill="#F5D8FC" stroke="#E9ACF8" stroke-width="3.8"/>
<path d="M58.25,841.3 V1458.5 H1409.85" stroke="#000" stroke-width="3.9" fill="none" stroke-linejoin="miter"/>
<path d="M58.25,1458.5 H71.55" stroke="#000" stroke-width="4.1"/>
<text x="43.45" y="1469.7" font-size="40" text-anchor="end">0</text>
<path d="M58.25,1335.46 H71.55" stroke="#000" stroke-width="4.1"/>
<text x="43.45" y="1346.66" font-size="40" text-anchor="end">4</text>
<path d="M58.25,1212.42 H71.55" stroke="#000" stroke-width="4.1"/>
<text x="43.45" y="1223.62" font-size="40" text-anchor="end">8</text>
<path d="M58.25,1089.38 H71.55" stroke="#000" stroke-width="4.1"/>
<text x="43.45" y="1100.58" font-size="40" text-anchor="end">12</text>
<path d="M58.25,966.34 H71.55" stroke="#000" stroke-width="4.1"/>
<text x="43.45" y="977.54" font-size="40" text-anchor="end">16</text>
<path d="M58.25,843.3 H71.55" stroke="#000" stroke-width="4.1"/>
<text x="43.45" y="854.5" font-size="40" text-anchor="end">20</text>
<path d="M58.25,1458.5 V1445.5" stroke="#000" stroke-width="4.1"/>
<text x="58.25" y="1501.7" font-size="40" text-anchor="middle">0</text>
<path d="M226.95,1458.5 V1445.5" stroke="#000" stroke-width="4.1"/>
<text x="226.95" y="1501.7" font-size="40" text-anchor="middle">1</text>
<path d="M395.65,1458.5 V1445.5" stroke="#000" stroke-width="4.1"/>
<text x="395.65" y="1501.7" font-size="40" text-anchor="middle">2</text>
<path d="M564.35,1458.5 V1445.5" stroke="#000" stroke-width="4.1"/>
<text x="564.35" y="1501.7" font-size="40" text-anchor="middle">3</text>
<path d="M733.05,1458.5 V1445.5" stroke="#000" stroke-width="4.1"/>
<text x="733.05" y="1501.7" font-size="40" text-anchor="middle">4</text>
<path d="M901.75,1458.5 V1445.5" stroke="#000" stroke-width="4.1"/>
<text x="901.75" y="1501.7" font-size="40" text-anchor="middle">5</text>
<path d="M1070.45,1458.5 V1445.5" stroke="#000" stroke-width="4.1"/>
<text x="1070.45" y="1501.7" font-size="40" text-anchor="middle">6</text>
<path d="M1239.15,1458.5 V1445.5" stroke="#000" stroke-width="4.1"/>
<text x="1239.15" y="1501.7" font-size="40" text-anchor="middle">7</text>
<path d="M1407.85,1458.5 V1445.5" stroke="#000" stroke-width="4.1"/>
<text x="1407.85" y="1501.7" font-size="40" text-anchor="middle">8</text>
<path d="M58.25,1458.5C86.37,1458.37 114.48,1458.25 142.6,1458.19C170.72,1458.13 198.83,1458.14 226.95,1458.13C255.07,1458.12 283.18,1458.09 311.3,1458.08C339.42,1458.06 367.53,1458.07 395.65,1458.07C423.77,1458.06 451.88,1458.06 480,1458.06C508.12,1458.05 536.23,1458.05 564.35,1458.04C592.47,1458.04 620.58,1458.04 648.7,1458.03C676.82,1458.03 704.93,1458.03 733.05,1458.02C761.17,1458.02 789.28,1458.02 817.4,1458.01C845.52,1458.01 873.63,1458 901.75,1458C929.87,1458 957.98,1457.99 986.1,1457.99C1014.22,1457.99 1042.33,1457.98 1070.45,1457.98C1098.57,1457.98 1126.68,1457.97 1154.8,1457.97C1182.92,1457.96 1211.03,1457.96 1239.15,1457.96C1267.27,1457.95 1295.38,1457.95 1323.5,1457.95" stroke="#000000" stroke-width="4.2" stroke-linecap="round" stroke-dasharray="5.0 21.5" fill="none" stroke-dashoffset="22.36"/>
<rect x="51.25" y="1451.5" width="14" height="14" fill="#000000"/>
<rect x="135.6" y="1451.19" width="14" height="14" fill="#000000"/>
<rect x="219.95" y="1451.13" width="14" height="14" fill="#000000"/>
<rect x="304.3" y="1451.08" width="14" height="14" fill="#000000"/>
<rect x="388.65" y="1451.07" width="14" height="14" fill="#000000"/>
<rect x="473" y="1451.06" width="14" height="14" fill="#000000"/>
<rect x="557.35" y="1451.04" width="14" height="14" fill="#000000"/>
<rect x="641.7" y="1451.03" width="14" height="14" fill="#000000"/>
<rect x="726.05" y="1451.02" width="14" height="14" fill="#000000"/>
<rect x="810.4" y="1451.01" width="14" height="14" fill="#000000"/>
<rect x="894.75" y="1451" width="14" height="14" fill="#000000"/>
<rect x="979.1" y="1450.99" width="14" height="14" fill="#000000"/>
<rect x="1063.45" y="1450.98" width="14" height="14" fill="#000000"/>
<rect x="1147.8" y="1450.97" width="14" height="14" fill="#000000"/>
<rect x="1232.15" y="1450.96" width="14" height="14" fill="#000000"/>
<rect x="1316.5" y="1450.95" width="14" height="14" fill="#000000"/>
<path d="M58.25,1458.5C86.37,1458.38 114.48,1458.26 142.6,1458.2C170.72,1458.14 198.83,1458.15 226.95,1458.13C255.07,1458.11 283.18,1458.07 311.3,1458.05C339.42,1458.04 367.53,1458.03 395.65,1458.03C423.77,1458.02 451.88,1458.01 480,1458C508.12,1457.99 536.23,1457.98 564.35,1457.97C592.47,1457.97 620.58,1457.96 648.7,1457.95C676.82,1457.94 704.93,1457.93 733.05,1457.92C761.17,1457.91 789.28,1457.9 817.4,1457.89C845.52,1457.88 873.63,1457.87 901.75,1457.87C929.87,1457.86 957.98,1457.85 986.1,1457.84C1014.22,1457.83 1042.33,1457.82 1070.45,1457.81C1098.57,1457.8 1126.68,1457.79 1154.8,1457.78C1182.92,1457.78 1211.03,1457.77 1239.15,1457.76C1267.27,1457.75 1295.38,1457.74 1323.5,1457.73" stroke="#FF0000" stroke-width="4.2" stroke-linecap="round" stroke-dasharray="5.0 21.5" fill="none" stroke-dashoffset="22.36"/>
<circle cx="58.25" cy="1458.5" r="7.2" fill="#FF0000"/>
<circle cx="142.6" cy="1458.2" r="7.2" fill="#FF0000"/>
<circle cx="226.95" cy="1458.13" r="7.2" fill="#FF0000"/>
<circle cx="311.3" cy="1458.05" r="7.2" fill="#FF0000"/>
<circle cx="395.65" cy="1458.03" r="7.2" fill="#FF0000"/>
<circle cx="480" cy="1458" r="7.2" fill="#FF0000"/>
<circle cx="564.35" cy="1457.97" r="7.2" fill="#FF0000"/>
<circle cx="648.7" cy="1457.95" r="7.2" fill="#FF0000"/>
<circle cx="733.05" cy="1457.92" r="7.2" fill="#FF0000"/>
<circle cx="817.4" cy="1457.89" r="7.2" fill="#FF0000"/>
<circle cx="901.75" cy="1457.87" r="7.2" fill="#FF0000"/>
<circle cx="986.1" cy="1457.84" r="7.2" fill="#FF0000"/>
<circle cx="1070.45" cy="1457.81" r="7.2" fill="#FF0000"/>
<circle cx="1154.8" cy="1457.78" r="7.2" fill="#FF0000"/>
<circle cx="1239.15" cy="1457.76" r="7.2" fill="#FF0000"/>
<circle cx="1323.5" cy="1457.73" r="7.2" fill="#FF0000"/>
<path d="M58.25,1458.5C86.37,1458.4 114.48,1458.3 142.6,1458.24C170.72,1458.18 198.83,1458.16 226.95,1458.13C255.07,1458.09 283.18,1458.05 311.3,1458.01C339.42,1457.98 367.53,1457.96 395.65,1457.94C423.77,1457.92 451.88,1457.89 480,1457.86C508.12,1457.84 536.23,1457.81 564.35,1457.79C592.47,1457.77 620.58,1457.74 648.7,1457.72C676.82,1457.69 704.93,1457.67 733.05,1457.64C761.17,1457.62 789.28,1457.59 817.4,1457.57C845.52,1457.54 873.63,1457.52 901.75,1457.49C929.87,1457.47 957.98,1457.44 986.1,1457.42C1014.22,1457.39 1042.33,1457.37 1070.45,1457.34C1098.57,1457.32 1126.68,1457.29 1154.8,1457.27C1182.92,1457.24 1211.03,1457.22 1239.15,1457.19C1267.27,1457.17 1295.38,1457.14 1323.5,1457.12" stroke="#00FF00" stroke-width="4.2" stroke-linecap="round" stroke-dasharray="5.0 21.5" fill="none" stroke-dashoffset="22.36"/>
<polygon points="58.25,1451 66.75,1466 49.75,1466" fill="#00FF00"/>
<polygon points="142.6,1450.74 151.1,1465.74 134.1,1465.74" fill="#00FF00"/>
<polygon points="226.95,1450.63 235.45,1465.63 218.45,1465.63" fill="#00FF00"/>
<polygon points="311.3,1450.51 319.8,1465.51 302.8,1465.51" fill="#00FF00"/>
<polygon points="395.65,1450.44 404.15,1465.44 387.15,1465.44" fill="#00FF00"/>
<polygon points="480,1450.36 488.5,1465.36 471.5,1465.36" fill="#00FF00"/>
<polygon points="564.35,1450.29 572.85,1465.29 555.85,1465.29" fill="#00FF00"/>
<polygon points="648.7,1450.22 657.2,1465.22 640.2,1465.22" fill="#00FF00"/>
<polygon points="733.05,1450.14 741.55,1465.14 724.55,1465.14" fill="#00FF00"/>
<polygon points="817.4,1450.07 825.9,1465.07 808.9,1465.07" fill="#00FF00"/>
<polygon points="901.75,1449.99 910.25,1464.99 893.25,1464.99" fill="#00FF00"/>
<polygon points="986.1,1449.92 994.6,1464.92 977.6,1464.92" fill="#00FF00"/>
<polygon points="1070.45,1449.84 1078.95,1464.84 1061.95,1464.84" fill="#00FF00"/>
<polygon points="1154.8,1449.77 1163.3,1464.77 1146.3,1464.77" fill="#00FF00"/>
<polygon points="1239.15,1449.69 1247.65,1464.69 1230.65,1464.69" fill="#00FF00"/>
<polygon points="1323.5,1449.62 1332,1464.62 1315,1464.62" fill="#00FF00"/>
<path d="M58.25,1458.5C86.37,1458.43 114.48,1458.35 142.6,1458.29C170.72,1458.23 198.83,1458.18 226.95,1458.13C255.07,1458.08 283.18,1458.03 311.3,1457.97C339.42,1457.92 367.53,1457.87 395.65,1457.81C423.77,1457.76 451.88,1457.7 480,1457.65C508.12,1457.6 536.23,1457.54 564.35,1457.49C592.47,1457.44 620.58,1457.38 648.7,1457.33C676.82,1457.27 704.93,1457.22 733.05,1457.17C761.17,1457.11 789.28,1457.06 817.4,1457.01C845.52,1456.95 873.63,1456.9 901.75,1456.85C929.87,1456.79 957.98,1456.74 986.1,1456.68C1014.22,1456.63 1042.33,1456.58 1070.45,1456.52C1098.57,1456.47 1126.68,1456.42 1154.8,1456.36C1182.92,1456.31 1211.03,1456.25 1239.15,1456.2C1267.27,1456.15 1295.38,1456.09 1323.5,1456.04" stroke="#0000FF" stroke-width="4.2" stroke-linecap="round" stroke-dasharray="5.0 21.5" fill="none" stroke-dashoffset="22.36"/>
<polygon points="58.25,1466 66.75,1451 49.75,1451" fill="#0000FF"/>
<polygon points="142.6,1465.79 151.1,1450.79 134.1,1450.79" fill="#0000FF"/>
<polygon points="226.95,1465.63 235.45,1450.63 218.45,1450.63" fill="#0000FF"/>
<polygon points="311.3,1465.47 319.8,1450.47 302.8,1450.47" fill="#0000FF"/>
<polygon points="395.65,1465.31 404.15,1450.31 387.15,1450.31" fill="#0000FF"/>
<polygon points="480,1465.15 488.5,1450.15 471.5,1450.15" fill="#0000FF"/>
<polygon points="564.35,1464.99 572.85,1449.99 555.85,1449.99" fill="#0000FF"/>
<polygon points="648.7,1464.83 657.2,1449.83 640.2,1449.83" fill="#0000FF"/>
<polygon points="733.05,1464.67 741.55,1449.67 724.55,1449.67" fill="#0000FF"/>
<polygon points="817.4,1464.51 825.9,1449.51 808.9,1449.51" fill="#0000FF"/>
<polygon points="901.75,1464.35 910.25,1449.35 893.25,1449.35" fill="#0000FF"/>
<polygon points="986.1,1464.18 994.6,1449.18 977.6,1449.18" fill="#0000FF"/>
<polygon points="1070.45,1464.02 1078.95,1449.02 1061.95,1449.02" fill="#0000FF"/>
<polygon points="1154.8,1463.86 1163.3,1448.86 1146.3,1448.86" fill="#0000FF"/>
<polygon points="1239.15,1463.7 1247.65,1448.7 1230.65,1448.7" fill="#0000FF"/>
<polygon points="1323.5,1463.54 1332,1448.54 1315,1448.54" fill="#0000FF"/>
<path d="M58.25,1458.5C86.37,1458.43 114.48,1458.37 142.6,1458.31C170.72,1458.24 198.83,1458.19 226.95,1458.13C255.07,1458.07 283.18,1458.01 311.3,1457.93C339.42,1457.84 367.53,1457.74 395.65,1457.64C423.77,1457.54 451.88,1457.45 480,1457.35C508.12,1457.26 536.23,1457.16 564.35,1457.07C592.47,1456.97 620.58,1456.88 648.7,1456.78C676.82,1456.69 704.93,1456.59 733.05,1456.5C761.17,1456.4 789.28,1456.31 817.4,1456.21C845.52,1456.12 873.63,1456.02 901.75,1455.93C929.87,1455.83 957.98,1455.74 986.1,1455.64C1014.22,1455.55 1042.33,1455.45 1070.45,1455.36C1098.57,1455.26 1126.68,1455.17 1154.8,1455.07C1182.92,1454.98 1211.03,1454.88 1239.15,1454.79C1267.27,1454.69 1295.38,1454.6 1323.5,1454.5" stroke="#00FFFF" stroke-width="4.2" stroke-linecap="round" stroke-dasharray="5.0 21.5" fill="none" stroke-dashoffset="22.36"/>
<polygon points="58.25,1449.3 67.75,1458.5 58.25,1467.7 48.75,1458.5" fill="#00FFFF"/>
<polygon points="142.6,1449.11 152.1,1458.31 142.6,1467.51 133.1,1458.31" fill="#00FFFF"/>
<polygon points="226.95,1448.93 236.45,1458.13 226.95,1467.33 217.45,1458.13" fill="#00FFFF"/>
<polygon points="311.3,1448.73 320.8,1457.93 311.3,1467.13 301.8,1457.93" fill="#00FFFF"/>
<polygon points="395.65,1448.44 405.15,1457.64 395.65,1466.84 386.15,1457.64" fill="#00FFFF"/>
<polygon points="480,1448.15 489.5,1457.35 480,1466.55 470.5,1457.35" fill="#00FFFF"/>
<polygon points="564.35,1447.87 573.85,1457.07 564.35,1466.27 554.85,1457.07" fill="#00FFFF"/>
<polygon points="648.7,1447.58 658.2,1456.78 648.7,1465.98 639.2,1456.78" fill="#00FFFF"/>
<polygon points="733.05,1447.3 742.55,1456.5 733.05,1465.7 723.55,1456.5" fill="#00FFFF"/>
<polygon points="817.4,1447.01 826.9,1456.21 817.4,1465.41 807.9,1456.21" fill="#00FFFF"/>
<polygon points="901.75,1446.73 911.25,1455.93 901.75,1465.13 892.25,1455.93" fill="#00FFFF"/>
<polygon points="986.1,1446.44 995.6,1455.64 986.1,1464.84 976.6,1455.64" fill="#00FFFF"/>
<polygon points="1070.45,1446.16 1079.95,1455.36 1070.45,1464.56 1060.95,1455.36" fill="#00FFFF"/>
<polygon points="1154.8,1445.87 1164.3,1455.07 1154.8,1464.27 1145.3,1455.07" fill="#00FFFF"/>
<polygon points="1239.15,1445.59 1248.65,1454.79 1239.15,1463.99 1229.65,1454.79" fill="#00FFFF"/>
<polygon points="1323.5,1445.3 1333,1454.5 1323.5,1463.7 1314,1454.5" fill="#00FFFF"/>
<path d="M58.25,1458.5C86.37,1458.45 114.48,1458.4 142.6,1458.33C170.72,1458.26 198.83,1458.18 226.95,1458.13C255.07,1458.07 283.18,1458.04 311.3,1457.88C339.42,1457.71 367.53,1457.4 395.65,1457.13C423.77,1456.86 451.88,1456.63 480,1456.39C508.12,1456.15 536.23,1455.9 564.35,1455.65C592.47,1455.4 620.58,1455.15 648.7,1454.91C676.82,1454.66 704.93,1454.41 733.05,1454.16C761.17,1453.92 789.28,1453.67 817.4,1453.42C845.52,1453.17 873.63,1452.93 901.75,1452.68C929.87,1452.43 957.98,1452.18 986.1,1451.94C1014.22,1451.69 1042.33,1451.44 1070.45,1451.19C1098.57,1450.94 1126.68,1450.7 1154.8,1450.45C1182.92,1450.2 1211.03,1449.95 1239.15,1449.71C1267.27,1449.46 1295.38,1449.21 1323.5,1448.96" stroke="#FF00FF" stroke-width="4.2" stroke-linecap="round" stroke-dasharray="5.0 21.5" fill="none" stroke-dashoffset="22.33"/>
<polygon points="50.45,1458.5 66.05,1449.7 66.05,1467.3" fill="#FF00FF"/>
<polygon points="134.8,1458.33 150.4,1449.53 150.4,1467.13" fill="#FF00FF"/>
<polygon points="219.15,1458.13 234.75,1449.33 234.75,1466.93" fill="#FF00FF"/>
<polygon points="303.5,1457.88 319.1,1449.08 319.1,1466.68" fill="#FF00FF"/>
<polygon points="387.85,1457.13 403.45,1448.33 403.45,1465.93" fill="#FF00FF"/>
<polygon points="472.2,1456.39 487.8,1447.59 487.8,1465.19" fill="#FF00FF"/>
<polygon points="556.55,1455.65 572.15,1446.85 572.15,1464.45" fill="#FF00FF"/>
<polygon points="640.9,1454.91 656.5,1446.11 656.5,1463.71" fill="#FF00FF"/>
<polygon points="725.25,1454.16 740.85,1445.36 740.85,1462.96" fill="#FF00FF"/>
<polygon points="809.6,1453.42 825.2,1444.62 825.2,1462.22" fill="#FF00FF"/>
<polygon points="893.95,1452.68 909.55,1443.88 909.55,1461.48" fill="#FF00FF"/>
<polygon points="978.3,1451.94 993.9,1443.14 993.9,1460.74" fill="#FF00FF"/>
<polygon points="1062.65,1451.19 1078.25,1442.39 1078.25,1459.99" fill="#FF00FF"/>
<polygon points="1147,1450.45 1162.6,1441.65 1162.6,1459.25" fill="#FF00FF"/>
<polygon points="1231.35,1449.71 1246.95,1440.91 1246.95,1458.51" fill="#FF00FF"/>
<polygon points="1315.7,1448.96 1331.3,1440.16 1331.3,1457.76" fill="#FF00FF"/>
<path d="M58.25,1458.5C86.37,1458.47 114.48,1458.44 142.6,1458.39C170.72,1458.33 198.83,1458.25 226.95,1458.13C255.07,1458 283.18,1457.83 311.3,1457.74C339.42,1457.65 367.53,1457.65 395.65,1457.54C423.77,1457.43 451.88,1457.22 480,1456.95C508.12,1456.68 536.23,1456.35 564.35,1455.96C592.47,1455.57 620.58,1455.1 648.7,1454.58C676.82,1454.05 704.93,1453.46 733.05,1452.8C761.17,1452.14 789.28,1451.42 817.4,1450.62C845.52,1449.83 873.63,1448.98 901.75,1448.05C929.87,1447.13 957.98,1446.14 986.1,1445.09C1014.22,1444.04 1042.33,1442.92 1070.45,1441.73C1098.57,1440.54 1126.68,1439.29 1154.8,1437.97C1182.92,1436.66 1211.03,1435.28 1239.15,1433.82C1267.27,1432.36 1295.38,1430.82 1323.5,1429.28" stroke="#FFFF00" stroke-width="4.2" stroke-linecap="round" stroke-dasharray="5.0 21.5" fill="none" stroke-dashoffset="21.93"/>
<polygon points="66.05,1458.5 50.45,1449.7 50.45,1467.3" fill="#FFFF00"/>
<polygon points="150.4,1458.39 134.8,1449.59 134.8,1467.19" fill="#FFFF00"/>
<polygon points="234.75,1458.13 219.15,1449.33 219.15,1466.93" fill="#FFFF00"/>
<polygon points="319.1,1457.74 303.5,1448.94 303.5,1466.54" fill="#FFFF00"/>
<polygon points="403.45,1457.54 387.85,1448.74 387.85,1466.34" fill="#FFFF00"/>
<polygon points="487.8,1456.95 472.2,1448.15 472.2,1465.75" fill="#FFFF00"/>
<polygon points="572.15,1455.96 556.55,1447.16 556.55,1464.76" fill="#FFFF00"/>
<polygon points="656.5,1454.58 640.9,1445.78 640.9,1463.38" fill="#FFFF00"/>
<polygon points="740.85,1452.8 725.25,1444 725.25,1461.6" fill="#FFFF00"/>
<polygon points="825.2,1450.62 809.6,1441.82 809.6,1459.42" fill="#FFFF00"/>
<polygon points="909.55,1448.05 893.95,1439.25 893.95,1456.85" fill="#FFFF00"/>
<polygon points="993.9,1445.09 978.3,1436.29 978.3,1453.89" fill="#FFFF00"/>
<polygon points="1078.25,1441.73 1062.65,1432.93 1062.65,1450.53" fill="#FFFF00"/>
<polygon points="1162.6,1437.97 1147,1429.17 1147,1446.77" fill="#FFFF00"/>
<polygon points="1246.95,1433.82 1231.35,1425.02 1231.35,1442.62" fill="#FFFF00"/>
<polygon points="1331.3,1429.28 1315.7,1420.48 1315.7,1438.08" fill="#FFFF00"/>
<path d="M58.25,1458.5C86.37,1458.49 114.48,1458.48 142.6,1458.42C170.72,1458.37 198.83,1458.27 226.95,1458.13C255.07,1457.99 283.18,1457.82 311.3,1457.57C339.42,1457.31 367.53,1456.99 395.65,1456.65C423.77,1456.32 451.88,1455.99 480,1455.42C508.12,1454.86 536.23,1454.07 564.35,1453.27C592.47,1452.48 620.58,1451.68 648.7,1450.81C676.82,1449.94 704.93,1449 733.05,1447.43C761.17,1445.85 789.28,1443.65 817.4,1441.89C845.52,1440.13 873.63,1438.83 901.75,1436.66C929.87,1434.5 957.98,1431.47 986.1,1428.66C1014.22,1425.85 1042.33,1423.25 1070.45,1420.05C1098.57,1416.85 1126.68,1413.04 1154.8,1409.28C1182.92,1405.53 1211.03,1401.84 1239.15,1396.98C1267.27,1392.12 1295.38,1386.09 1323.5,1380.06" stroke="#808000" stroke-width="4.2" stroke-linecap="round" stroke-dasharray="5.0 21.5" fill="none" stroke-dashoffset="19.17"/>
<polygon points="58.25,1450.4 65.55,1454.45 65.55,1462.55 58.25,1466.6 50.95,1462.55 50.95,1454.45" fill="#808000"/>
<polygon points="142.6,1450.32 149.9,1454.37 149.9,1462.47 142.6,1466.52 135.3,1462.47 135.3,1454.37" fill="#808000"/>
<polygon points="226.95,1450.03 234.25,1454.08 234.25,1462.18 226.95,1466.23 219.65,1462.18 219.65,1454.08" fill="#808000"/>
<polygon points="311.3,1449.47 318.6,1453.52 318.6,1461.62 311.3,1465.67 304,1461.62 304,1453.52" fill="#808000"/>
<polygon points="395.65,1448.55 402.95,1452.6 402.95,1460.7 395.65,1464.75 388.35,1460.7 388.35,1452.6" fill="#808000"/>
<polygon points="480,1447.32 487.3,1451.37 487.3,1459.47 480,1463.52 472.7,1459.47 472.7,1451.37" fill="#808000"/>
<polygon points="564.35,1445.17 571.65,1449.22 571.65,1457.32 564.35,1461.37 557.05,1457.32 557.05,1449.22" fill="#808000"/>
<polygon points="648.7,1442.71 656,1446.76 656,1454.86 648.7,1458.91 641.4,1454.86 641.4,1446.76" fill="#808000"/>
<polygon points="733.05,1439.33 740.35,1443.38 740.35,1451.48 733.05,1455.53 725.75,1451.48 725.75,1443.38" fill="#808000"/>
<polygon points="817.4,1433.79 824.7,1437.84 824.7,1445.94 817.4,1449.99 810.1,1445.94 810.1,1437.84" fill="#808000"/>
<polygon points="901.75,1428.56 909.05,1432.61 909.05,1440.71 901.75,1444.76 894.45,1440.71 894.45,1432.61" fill="#808000"/>
<polygon points="986.1,1420.56 993.4,1424.61 993.4,1432.71 986.1,1436.76 978.8,1432.71 978.8,1424.61" fill="#808000"/>
<polygon points="1070.45,1411.95 1077.75,1416 1077.75,1424.1 1070.45,1428.15 1063.15,1424.1 1063.15,1416" fill="#808000"/>
<polygon points="1154.8,1401.18 1162.1,1405.23 1162.1,1413.33 1154.8,1417.38 1147.5,1413.33 1147.5,1405.23" fill="#808000"/>
<polygon points="1239.15,1388.88 1246.45,1392.93 1246.45,1401.03 1239.15,1405.08 1231.85,1401.03 1231.85,1392.93" fill="#808000"/>
<polygon points="1323.5,1371.96 1330.8,1376.01 1330.8,1384.11 1323.5,1388.16 1316.2,1384.11 1316.2,1376.01" fill="#808000"/>
<path d="M58.25,1458.5C86.37,1458.5 114.48,1458.49 142.6,1458.44C170.72,1458.39 198.83,1458.3 226.95,1458.13C255.07,1457.96 283.18,1457.71 311.3,1457.36C339.42,1457 367.53,1456.54 395.65,1455.89C423.77,1455.23 451.88,1454.39 480,1453.27C508.12,1452.15 536.23,1450.75 564.35,1449.27C592.47,1447.8 620.58,1446.25 648.7,1444.04C676.82,1441.83 704.93,1438.96 733.05,1435.74C761.17,1432.52 789.28,1428.96 817.4,1424.97C845.52,1420.98 873.63,1416.56 901.75,1411.13C929.87,1405.7 957.98,1399.26 986.1,1392.06C1014.22,1384.86 1042.33,1376.9 1070.45,1367.76C1098.57,1358.62 1126.68,1348.31 1154.8,1336.38C1182.92,1324.46 1211.03,1310.92 1239.15,1295.47C1267.27,1280.03 1295.38,1262.68 1323.5,1245.33" stroke="#000080" stroke-width="4.2" stroke-linecap="round" stroke-dasharray="5.0 21.5" fill="none" stroke-dashoffset="23.67"/>
<polygon points="58.25,1450.4 60.34,1456.42 66.71,1456.55 61.64,1460.4 63.48,1466.5 58.25,1462.86 53.02,1466.5 54.86,1460.4 49.79,1456.55 56.16,1456.42" fill="#000080"/>
<polygon points="142.6,1450.34 144.69,1456.36 151.06,1456.49 145.99,1460.34 147.83,1466.44 142.6,1462.8 137.37,1466.44 139.21,1460.34 134.14,1456.49 140.51,1456.36" fill="#000080"/>
<polygon points="226.95,1450.03 229.04,1456.05 235.41,1456.18 230.34,1460.03 232.18,1466.13 226.95,1462.49 221.72,1466.13 223.56,1460.03 218.49,1456.18 224.86,1456.05" fill="#000080"/>
<polygon points="311.3,1449.26 313.39,1455.28 319.76,1455.41 314.69,1459.26 316.53,1465.36 311.3,1461.72 306.07,1465.36 307.91,1459.26 302.84,1455.41 309.21,1455.28" fill="#000080"/>
<polygon points="395.65,1447.79 397.74,1453.81 404.11,1453.94 399.04,1457.79 400.88,1463.89 395.65,1460.25 390.42,1463.89 392.26,1457.79 387.19,1453.94 393.56,1453.81" fill="#000080"/>
<polygon points="480,1445.17 482.09,1451.19 488.46,1451.32 483.39,1455.17 485.23,1461.27 480,1457.63 474.77,1461.27 476.61,1455.17 471.54,1451.32 477.91,1451.19" fill="#000080"/>
<polygon points="564.35,1441.17 566.44,1447.19 572.81,1447.32 567.74,1451.17 569.58,1457.27 564.35,1453.63 559.12,1457.27 560.96,1451.17 555.89,1447.32 562.26,1447.19" fill="#000080"/>
<polygon points="648.7,1435.94 650.79,1441.96 657.16,1442.09 652.09,1445.94 653.93,1452.04 648.7,1448.4 643.47,1452.04 645.31,1445.94 640.24,1442.09 646.61,1441.96" fill="#000080"/>
<polygon points="733.05,1427.64 735.14,1433.66 741.51,1433.79 736.44,1437.64 738.28,1443.74 733.05,1440.1 727.82,1443.74 729.66,1437.64 724.59,1433.79 730.96,1433.66" fill="#000080"/>
<polygon points="817.4,1416.87 819.49,1422.89 825.86,1423.02 820.79,1426.87 822.63,1432.97 817.4,1429.33 812.17,1432.97 814.01,1426.87 808.94,1423.02 815.31,1422.89" fill="#000080"/>
<polygon points="901.75,1403.03 903.84,1409.05 910.21,1409.18 905.14,1413.03 906.98,1419.13 901.75,1415.49 896.52,1419.13 898.36,1413.03 893.29,1409.18 899.66,1409.05" fill="#000080"/>
<polygon points="986.1,1383.96 988.19,1389.98 994.56,1390.11 989.49,1393.96 991.33,1400.06 986.1,1396.42 980.87,1400.06 982.71,1393.96 977.64,1390.11 984.01,1389.98" fill="#000080"/>
<polygon points="1070.45,1359.66 1072.54,1365.68 1078.91,1365.81 1073.84,1369.66 1075.68,1375.76 1070.45,1372.12 1065.22,1375.76 1067.06,1369.66 1061.99,1365.81 1068.36,1365.68" fill="#000080"/>
<polygon points="1154.8,1328.28 1156.89,1334.3 1163.26,1334.43 1158.19,1338.28 1160.03,1344.38 1154.8,1340.74 1149.57,1344.38 1151.41,1338.28 1146.34,1334.43 1152.71,1334.3" fill="#000080"/>
<polygon points="1239.15,1287.37 1241.24,1293.39 1247.61,1293.52 1242.54,1297.37 1244.38,1303.47 1239.15,1299.83 1233.92,1303.47 1235.76,1297.37 1230.69,1293.52 1237.06,1293.39" fill="#000080"/>
<polygon points="1323.5,1237.23 1325.59,1243.25 1331.96,1243.38 1326.89,1247.23 1328.73,1253.33 1323.5,1249.69 1318.27,1253.33 1320.11,1247.23 1315.04,1243.38 1321.41,1243.25" fill="#000080"/>
<path d="M58.25,1458.5C86.37,1458.49 114.48,1458.49 142.6,1458.45C170.72,1458.41 198.83,1458.35 226.95,1458.13C255.07,1457.91 283.18,1457.53 311.3,1457.1C339.42,1456.67 367.53,1456.18 395.65,1454.81C423.77,1453.44 451.88,1451.2 480,1449.27C508.12,1447.34 536.23,1445.73 564.35,1442.81C592.47,1439.89 620.58,1435.66 648.7,1430.51C676.82,1425.35 704.93,1419.28 733.05,1412.36C761.17,1405.44 789.28,1397.69 817.4,1388.06C845.52,1378.43 873.63,1366.91 901.75,1352.99C929.87,1339.08 957.98,1322.76 986.1,1303.47C1014.22,1284.18 1042.33,1261.93 1070.45,1236.41C1098.57,1210.9 1126.68,1182.13 1154.8,1148.13C1182.92,1114.14 1211.03,1074.92 1239.15,1028.78C1267.27,982.64 1295.38,929.58 1323.5,876.52" stroke="#800080" stroke-width="4.2" stroke-linecap="round" stroke-dasharray="5.0 21.5" fill="none" stroke-dashoffset="18.99"/>
<polygon points="58.25,1450.1 66.71,1456.25 63.48,1466.2 53.02,1466.2 49.79,1456.25" fill="#800080"/>
<polygon points="142.6,1450.05 151.06,1456.2 147.83,1466.15 137.37,1466.15 134.14,1456.2" fill="#800080"/>
<polygon points="226.95,1449.73 235.41,1455.88 232.18,1465.83 221.72,1465.83 218.49,1455.88" fill="#800080"/>
<polygon points="311.3,1448.7 319.76,1454.85 316.53,1464.8 306.07,1464.8 302.84,1454.85" fill="#800080"/>
<polygon points="395.65,1446.41 404.11,1452.56 400.88,1462.51 390.42,1462.51 387.19,1452.56" fill="#800080"/>
<polygon points="480,1440.87 488.46,1447.02 485.23,1456.97 474.77,1456.97 471.54,1447.02" fill="#800080"/>
<polygon points="564.35,1434.41 572.81,1440.56 569.58,1450.51 559.12,1450.51 555.89,1440.56" fill="#800080"/>
<polygon points="648.7,1422.11 657.16,1428.26 653.93,1438.21 643.47,1438.21 640.24,1428.26" fill="#800080"/>
<polygon points="733.05,1403.96 741.51,1410.11 738.28,1420.06 727.82,1420.06 724.59,1410.11" fill="#800080"/>
<polygon points="817.4,1379.66 825.86,1385.81 822.63,1395.76 812.17,1395.76 808.94,1385.81" fill="#800080"/>
<polygon points="901.75,1344.59 910.21,1350.74 906.98,1360.69 896.52,1360.69 893.29,1350.74" fill="#800080"/>
<polygon points="986.1,1295.07 994.56,1301.22 991.33,1311.17 980.87,1311.17 977.64,1301.22" fill="#800080"/>
<polygon points="1070.45,1228.01 1078.91,1234.16 1075.68,1244.11 1065.22,1244.11 1061.99,1234.16" fill="#800080"/>
<polygon points="1154.8,1139.73 1163.26,1145.88 1160.03,1155.83 1149.57,1155.83 1146.34,1145.88" fill="#800080"/>
<polygon points="1239.15,1020.38 1247.61,1026.53 1244.38,1036.48 1233.92,1036.48 1230.69,1026.53" fill="#800080"/>
<polygon points="1323.5,868.12 1331.96,874.27 1328.73,884.22 1318.27,884.22 1315.04,874.27" fill="#800080"/>
<rect x="80.7" y="925.4" width="854.2" height="384.1" fill="#F5D8FC" stroke="#E9ACF8" stroke-width="4.2"/>
<path d="M155.4,943 V1274.2 H891.4" stroke="#000" stroke-width="5.2" fill="none"/>
<path d="M155.4,1274.2 H168.2" stroke="#000" stroke-width="4.3"/>
<text x="141.2" y="1281.8" font-size="26.3" text-anchor="end">0.00</text>
<path d="M155.4,1208.4 H168.2" stroke="#000" stroke-width="4.3"/>
<text x="141.2" y="1216" font-size="26.3" text-anchor="end">0.01</text>
<path d="M155.4,1142.6 H168.2" stroke="#000" stroke-width="4.3"/>
<text x="141.2" y="1150.2" font-size="26.3" text-anchor="end">0.02</text>
<path d="M155.4,1076.8 H168.2" stroke="#000" stroke-width="4.3"/>
<text x="141.2" y="1084.4" font-size="26.3" text-anchor="end">0.03</text>
<path d="M155.4,1011 H168.2" stroke="#000" stroke-width="4.3"/>
<text x="141.2" y="1018.6" font-size="26.3" text-anchor="end">0.04</text>
<path d="M155.4,945.2 H168.2" stroke="#000" stroke-width="4.3"/>
<text x="141.2" y="952.8" font-size="26.3" text-anchor="end">0.05</text>
<path d="M155.4,1274.2 V1262.4" stroke="#000" stroke-width="4.3"/>
<text x="155.4" y="1306.7" font-size="26.3" text-anchor="middle">0.0</text>
<path d="M201.25,1274.2 V1267.7" stroke="#000" stroke-width="4.3"/>
<path d="M247.1,1274.2 V1262.4" stroke="#000" stroke-width="4.3"/>
<text x="247.1" y="1306.7" font-size="26.3" text-anchor="middle">0.2</text>
<path d="M292.95,1274.2 V1267.7" stroke="#000" stroke-width="4.3"/>
<path d="M338.8,1274.2 V1262.4" stroke="#000" stroke-width="4.3"/>
<text x="338.8" y="1306.7" font-size="26.3" text-anchor="middle">0.4</text>
<path d="M384.65,1274.2 V1267.7" stroke="#000" stroke-width="4.3"/>
<path d="M430.5,1274.2 V1262.4" stroke="#000" stroke-width="4.3"/>
<text x="430.5" y="1306.7" font-size="26.3" text-anchor="middle">0.6</text>
<path d="M476.35,1274.2 V1267.7" stroke="#000" stroke-width="4.3"/>
<path d="M522.2,1274.2 V1262.4" stroke="#000" stroke-width="4.3"/>
<text x="522.2" y="1306.7" font-size="26.3" text-anchor="middle">0.8</text>
<path d="M568.05,1274.2 V1267.7" stroke="#000" stroke-width="4.3"/>
<path d="M613.9,1274.2 V1262.4" stroke="#000" stroke-width="4.3"/>
<text x="613.9" y="1306.7" font-size="26.3" text-anchor="middle">1.0</text>
<path d="M659.75,1274.2 V1267.7" stroke="#000" stroke-width="4.3"/>
<path d="M705.6,1274.2 V1262.4" stroke="#000" stroke-width="4.3"/>
<text x="705.6" y="1306.7" font-size="26.3" text-anchor="middle">1.2</text>
<path d="M751.45,1274.2 V1267.7" stroke="#000" stroke-width="4.3"/>
<path d="M797.3,1274.2 V1262.4" stroke="#000" stroke-width="4.3"/>
<text x="797.3" y="1306.7" font-size="26.3" text-anchor="middle">1.4</text>
<path d="M843.15,1274.2 V1267.7" stroke="#000" stroke-width="4.3"/>
<path d="M889,1274.2 V1262.4" stroke="#000" stroke-width="4.3"/>
<text x="889" y="1306.7" font-size="26.3" text-anchor="middle">1.6</text>
<path d="M155.4,1274.2C231.82,1247.39 308.23,1220.58 384.65,1207.8C461.07,1195.02 537.48,1196.26 613.9,1194.58C690.32,1192.9 766.73,1188.3 843.15,1183.7" stroke="#000000" stroke-width="3.9" stroke-linecap="round" stroke-dasharray="2.4 21.4" fill="none"/>
<rect x="148.82" y="1267.62" width="13.16" height="13.16" fill="#000000"/>
<rect x="378.07" y="1201.22" width="13.16" height="13.16" fill="#000000"/>
<rect x="607.32" y="1188" width="13.16" height="13.16" fill="#000000"/>
<rect x="836.57" y="1177.12" width="13.16" height="13.16" fill="#000000"/>
<path d="M155.4,1274.2C231.82,1248.89 308.23,1223.57 384.65,1210.8C461.07,1198.03 537.48,1197.79 613.9,1194.58C690.32,1191.37 766.73,1185.19 843.15,1179" stroke="#FF0000" stroke-width="3.9" stroke-linecap="round" stroke-dasharray="2.4 21.4" fill="none"/>
<circle cx="155.4" cy="1274.2" r="6.77" fill="#FF0000"/>
<circle cx="384.65" cy="1210.8" r="6.77" fill="#FF0000"/>
<circle cx="613.9" cy="1194.58" r="6.77" fill="#FF0000"/>
<circle cx="843.15" cy="1179" r="6.77" fill="#FF0000"/>
<path d="M155.4,1274.2C231.82,1252.75 308.23,1231.3 384.65,1218.4C461.07,1205.5 537.48,1201.16 613.9,1194.58C690.32,1188.01 766.73,1179.2 843.15,1170.4" stroke="#00FF00" stroke-width="3.9" stroke-linecap="round" stroke-dasharray="2.4 21.4" fill="none"/>
<polygon points="155.4,1267.15 163.39,1281.25 147.41,1281.25" fill="#00FF00"/>
<polygon points="384.65,1211.35 392.64,1225.45 376.66,1225.45" fill="#00FF00"/>
<polygon points="613.9,1187.53 621.89,1201.63 605.91,1201.63" fill="#00FF00"/>
<polygon points="843.15,1163.35 851.14,1177.45 835.16,1177.45" fill="#00FF00"/>
<path d="M155.4,1274.2C231.82,1258.31 308.23,1242.42 384.65,1229.2C461.07,1215.98 537.48,1205.42 613.9,1194.58C690.32,1183.74 766.73,1172.62 843.15,1161.5" stroke="#0000FF" stroke-width="3.9" stroke-linecap="round" stroke-dasharray="2.4 21.4" fill="none"/>
<polygon points="155.4,1281.25 163.39,1267.15 147.41,1267.15" fill="#0000FF"/>
<polygon points="384.65,1236.25 392.64,1222.15 376.66,1222.15" fill="#0000FF"/>
<polygon points="613.9,1201.63 621.89,1187.53 605.91,1187.53" fill="#0000FF"/>
<polygon points="843.15,1168.55 851.14,1154.45 835.16,1154.45" fill="#0000FF"/>
<path d="M155.4,1274.2C231.82,1260 308.23,1245.81 384.65,1232.8C461.07,1219.79 537.48,1207.97 613.9,1194.58C690.32,1181.2 766.73,1166.25 843.15,1151.3" stroke="#00FFFF" stroke-width="3.9" stroke-linecap="round" stroke-dasharray="2.4 21.4" fill="none"/>
<polygon points="155.4,1265.55 164.33,1274.2 155.4,1282.85 146.47,1274.2" fill="#00FFFF"/>
<polygon points="384.65,1224.15 393.58,1232.8 384.65,1241.45 375.72,1232.8" fill="#00FFFF"/>
<polygon points="613.9,1185.93 622.83,1194.58 613.9,1203.23 604.97,1194.58" fill="#00FFFF"/>
<polygon points="843.15,1142.65 852.08,1151.3 843.15,1159.95 834.22,1151.3" fill="#00FFFF"/>
<path d="M155.4,1274.2C231.82,1262.49 308.23,1250.78 384.65,1237.9C461.07,1225.02 537.48,1210.96 613.9,1194.58C690.32,1178.2 766.73,1159.5 843.15,1140.8" stroke="#FF00FF" stroke-width="3.9" stroke-linecap="round" stroke-dasharray="2.4 21.4" fill="none"/>
<polygon points="148.07,1274.2 162.73,1265.93 162.73,1282.47" fill="#FF00FF"/>
<polygon points="377.32,1237.9 391.98,1229.63 391.98,1246.17" fill="#FF00FF"/>
<polygon points="606.57,1194.58 621.23,1186.31 621.23,1202.85" fill="#FF00FF"/>
<polygon points="835.82,1140.8 850.48,1132.53 850.48,1149.07" fill="#FF00FF"/>
<path d="M155.4,1274.2C231.82,1268.3 308.23,1262.39 384.65,1250C461.07,1237.61 537.48,1218.73 613.9,1194.58C690.32,1170.43 766.73,1141.02 843.15,1111.6" stroke="#FFFF00" stroke-width="3.9" stroke-linecap="round" stroke-dasharray="2.4 21.4" fill="none"/>
<polygon points="162.73,1274.2 148.07,1265.93 148.07,1282.47" fill="#FFFF00"/>
<polygon points="391.98,1250 377.32,1241.73 377.32,1258.27" fill="#FFFF00"/>
<polygon points="621.23,1194.58 606.57,1186.31 606.57,1202.85" fill="#FFFF00"/>
<polygon points="850.48,1111.6 835.82,1103.33 835.82,1119.87" fill="#FFFF00"/>
<path d="M155.4,1274.2C231.82,1271.47 308.23,1268.74 384.65,1257.5C461.07,1246.26 537.48,1226.52 613.9,1194.58C690.32,1162.65 766.73,1118.52 843.15,1074.4" stroke="#808000" stroke-width="3.9" stroke-linecap="round" stroke-dasharray="2.4 21.4" fill="none"/>
<polygon points="155.4,1266.59 162.26,1270.39 162.26,1278.01 155.4,1281.81 148.54,1278.01 148.54,1270.39" fill="#808000"/>
<polygon points="384.65,1249.89 391.51,1253.69 391.51,1261.31 384.65,1265.11 377.79,1261.31 377.79,1253.69" fill="#808000"/>
<polygon points="613.9,1186.97 620.76,1190.78 620.76,1198.39 613.9,1202.2 607.04,1198.39 607.04,1190.78" fill="#808000"/>
<polygon points="843.15,1066.79 850.01,1070.59 850.01,1078.21 843.15,1082.01 836.29,1078.21 836.29,1070.59" fill="#808000"/>
<path d="M155.4,1274.2C231.82,1272.88 308.23,1271.56 384.65,1262C461.07,1252.44 537.48,1234.64 613.9,1194.58C690.32,1154.53 766.73,1092.21 843.15,1029.9" stroke="#000080" stroke-width="3.9" stroke-linecap="round" stroke-dasharray="2.4 21.4" fill="none"/>
<polygon points="155.4,1266.63 157.37,1272.29 163.36,1272.41 158.58,1276.03 160.32,1281.77 155.4,1278.35 150.48,1281.77 152.22,1276.03 147.44,1272.41 153.43,1272.29" fill="#000080"/>
<polygon points="384.65,1254.43 386.62,1260.09 392.61,1260.21 387.83,1263.83 389.57,1269.57 384.65,1266.15 379.73,1269.57 381.47,1263.83 376.69,1260.21 382.68,1260.09" fill="#000080"/>
<polygon points="613.9,1187.02 615.87,1192.67 621.86,1192.8 617.08,1196.42 618.82,1202.15 613.9,1198.73 608.98,1202.15 610.72,1196.42 605.94,1192.8 611.93,1192.67" fill="#000080"/>
<polygon points="843.15,1022.33 845.12,1027.99 851.11,1028.11 846.33,1031.73 848.07,1037.47 843.15,1034.05 838.23,1037.47 839.97,1031.73 835.19,1028.11 841.18,1027.99" fill="#000080"/>
<path d="M155.4,1274.2C231.82,1272.44 308.23,1270.69 384.65,1263.5C461.07,1256.31 537.48,1243.69 613.9,1194.58C690.32,1145.48 766.73,1059.89 843.15,974.3" stroke="#800080" stroke-width="3.9" stroke-linecap="round" stroke-dasharray="2.4 21.4" fill="none"/>
<polygon points="155.4,1266.33 163.36,1272.11 160.32,1281.47 150.48,1281.47 147.44,1272.11" fill="#800080"/>
<polygon points="384.65,1255.63 392.61,1261.41 389.57,1270.77 379.73,1270.77 376.69,1261.41" fill="#800080"/>
<polygon points="613.9,1186.72 621.86,1192.5 618.82,1201.85 608.98,1201.85 605.94,1192.5" fill="#800080"/>
<polygon points="843.15,966.43 851.11,972.21 848.07,981.57 838.23,981.57 835.19,972.21" fill="#800080"/>
<path d="M198.4,1416.5 L236.5,1341.7" stroke="#DD70FC" stroke-width="3.6"/>
<polygon points="249.9,1314.1 228,1337.8 245,1345.6" fill="#DD70FC"/>
<path d="M79.9,860.6 h4.6 M132.3,860.6 h4.6" stroke="#000000" stroke-width="4.4" stroke-linecap="round" fill="none"/>
<rect x="104" y="853.6" width="14" height="14" fill="#000000"/>
<text x="140.7" y="872.2" font-size="34.5"><tspan font-style="italic">n</tspan> =0.1</text>
<path d="M248.3,860.6 h4.6 M300.7,860.6 h4.6" stroke="#FF0000" stroke-width="4.4" stroke-linecap="round" fill="none"/>
<circle cx="279.4" cy="860.6" r="7.2" fill="#FF0000"/>
<text x="309.1" y="872.2" font-size="34.5"><tspan font-style="italic">n</tspan> =0.2</text>
<path d="M416.7,860.6 h4.6 M469.1,860.6 h4.6" stroke="#00FF00" stroke-width="4.4" stroke-linecap="round" fill="none"/>
<polygon points="447.8,853.1 456.3,868.1 439.3,868.1" fill="#00FF00"/>
<text x="477.5" y="872.2" font-size="34.5"><tspan font-style="italic">n</tspan> =0.4</text>
<path d="M585.1,860.6 h4.6 M637.5,860.6 h4.6" stroke="#0000FF" stroke-width="4.4" stroke-linecap="round" fill="none"/>
<polygon points="616.2,868.1 624.7,853.1 607.7,853.1" fill="#0000FF"/>
<text x="645.9" y="872.2" font-size="34.5"><tspan font-style="italic">n</tspan> =0.6</text>
<path d="M753.5,860.6 h4.6 M805.9,860.6 h4.6" stroke="#00FFFF" stroke-width="4.4" stroke-linecap="round" fill="none"/>
<polygon points="784.6,851.4 794.1,860.6 784.6,869.8 775.1,860.6" fill="#00FFFF"/>
<text x="814.3" y="872.2" font-size="34.5"><tspan font-style="italic">n</tspan> =0.8</text>
<path d="M79.9,903.6 h4.6 M132.3,903.6 h4.6" stroke="#FF00FF" stroke-width="4.4" stroke-linecap="round" fill="none"/>
<polygon points="103.2,903.6 118.8,894.8 118.8,912.4" fill="#FF00FF"/>
<text x="140.7" y="915.2" font-size="34.5"><tspan font-style="italic">n</tspan> =1.0</text>
<path d="M248.3,903.6 h4.6 M300.7,903.6 h4.6" stroke="#FFFF00" stroke-width="4.4" stroke-linecap="round" fill="none"/>
<polygon points="287.2,903.6 271.6,894.8 271.6,912.4" fill="#FFFF00"/>
<text x="309.1" y="915.2" font-size="34.5"><tspan font-style="italic">n</tspan> =1.5</text>
<path d="M416.7,903.6 h4.6 M469.1,903.6 h4.6" stroke="#808000" stroke-width="4.4" stroke-linecap="round" fill="none"/>
<polygon points="447.8,895.5 455.1,899.55 455.1,907.65 447.8,911.7 440.5,907.65 440.5,899.55" fill="#808000"/>
<text x="477.5" y="915.2" font-size="34.5"><tspan font-style="italic">n</tspan> =2.0</text>
<path d="M585.1,903.6 h4.6 M637.5,903.6 h4.6" stroke="#000080" stroke-width="4.4" stroke-linecap="round" fill="none"/>
<polygon points="616.2,895.5 618.29,901.52 624.66,901.65 619.59,905.5 621.43,911.6 616.2,907.96 610.97,911.6 612.81,905.5 607.74,901.65 614.11,901.52" fill="#000080"/>
<text x="645.9" y="915.2" font-size="34.5"><tspan font-style="italic">n</tspan> =2.5</text>
<path d="M753.5,903.6 h4.6 M805.9,903.6 h4.6" stroke="#800080" stroke-width="4.4" stroke-linecap="round" fill="none"/>
<polygon points="784.6,895.2 793.06,901.35 789.83,911.3 779.37,911.3 776.14,901.35" fill="#800080"/>
<text x="814.3" y="915.2" font-size="34.5"><tspan font-style="italic">n</tspan> =3.0</text>
<text x="0" y="0" font-size="40" font-style="italic" text-anchor="middle" transform="translate(25.1,1166.2) rotate(-90)">ε</text>
<text x="651.3" y="1536.6" font-size="40.3">Time/<tspan font-style="italic">h</tspan></text>
<text x="610.5" y="1591.3" font-size="39">b. parameter <tspan font-style="italic">n</tspan></text>
<path d="M54.7,1656.03 V2269.2 H1409.5" stroke="#000" stroke-width="3.9" fill="none" stroke-linejoin="miter"/>
<path d="M54.7,2269.2 H68" stroke="#000" stroke-width="4.1"/>
<text x="39.9" y="2280.4" font-size="40" text-anchor="end">0</text>
<path d="M54.7,2181.89 H68" stroke="#000" stroke-width="4.1"/>
<text x="39.9" y="2193.09" font-size="40" text-anchor="end">1</text>
<path d="M54.7,2094.58 H68" stroke="#000" stroke-width="4.1"/>
<text x="39.9" y="2105.78" font-size="40" text-anchor="end">2</text>
<path d="M54.7,2007.27 H68" stroke="#000" stroke-width="4.1"/>
<text x="39.9" y="2018.47" font-size="40" text-anchor="end">3</text>
<path d="M54.7,1919.96 H68" stroke="#000" stroke-width="4.1"/>
<text x="39.9" y="1931.16" font-size="40" text-anchor="end">4</text>
<path d="M54.7,1832.65 H68" stroke="#000" stroke-width="4.1"/>
<text x="39.9" y="1843.85" font-size="40" text-anchor="end">5</text>
<path d="M54.7,1745.34 H68" stroke="#000" stroke-width="4.1"/>
<text x="39.9" y="1756.54" font-size="40" text-anchor="end">6</text>
<path d="M54.7,1658.03 H68" stroke="#000" stroke-width="4.1"/>
<text x="39.9" y="1669.23" font-size="40" text-anchor="end">7</text>
<path d="M54.7,2269.2 V2256.2" stroke="#000" stroke-width="4.1"/>
<text x="54.7" y="2313.2" font-size="40" text-anchor="middle">0</text>
<path d="M223.8,2269.2 V2256.2" stroke="#000" stroke-width="4.1"/>
<text x="223.8" y="2313.2" font-size="40" text-anchor="middle">1</text>
<path d="M392.9,2269.2 V2256.2" stroke="#000" stroke-width="4.1"/>
<text x="392.9" y="2313.2" font-size="40" text-anchor="middle">2</text>
<path d="M562,2269.2 V2256.2" stroke="#000" stroke-width="4.1"/>
<text x="562" y="2313.2" font-size="40" text-anchor="middle">3</text>
<path d="M731.1,2269.2 V2256.2" stroke="#000" stroke-width="4.1"/>
<text x="731.1" y="2313.2" font-size="40" text-anchor="middle">4</text>
<path d="M900.2,2269.2 V2256.2" stroke="#000" stroke-width="4.1"/>
<text x="900.2" y="2313.2" font-size="40" text-anchor="middle">5</text>
<path d="M1069.3,2269.2 V2256.2" stroke="#000" stroke-width="4.1"/>
<text x="1069.3" y="2313.2" font-size="40" text-anchor="middle">6</text>
<path d="M1238.4,2269.2 V2256.2" stroke="#000" stroke-width="4.1"/>
<text x="1238.4" y="2313.2" font-size="40" text-anchor="middle">7</text>
<path d="M1407.5,2269.2 V2256.2" stroke="#000" stroke-width="4.1"/>
<text x="1407.5" y="2313.2" font-size="40" text-anchor="middle">8</text>
<path d="M54.7,2269.2C82.88,2235.53 111.07,2201.86 139.25,2184.86C167.43,2167.86 195.62,2167.54 223.8,2162.86C251.98,2158.17 280.17,2149.13 308.35,2141.29C336.53,2133.46 364.72,2126.83 392.9,2119.73C421.08,2112.62 449.27,2105.02 477.45,2096.68C505.63,2088.33 533.82,2079.22 562,2070.48C590.18,2061.74 618.37,2053.36 646.55,2043.94C674.73,2034.52 702.92,2024.06 731.1,2013.12C759.28,2002.18 787.47,1990.77 815.65,1978.72C843.83,1966.67 872.02,1954 900.2,1941.09C928.38,1928.18 956.57,1915.04 984.75,1900.66C1012.93,1886.29 1041.12,1870.68 1069.3,1854.48C1097.48,1838.27 1125.67,1821.46 1153.85,1803.66C1182.03,1785.86 1210.22,1767.07 1238.4,1747C1266.58,1726.93 1294.77,1705.57 1322.95,1684.22" stroke="#000000" stroke-width="4.2" stroke-linecap="round" stroke-dasharray="5.0 21.5" fill="none" stroke-dashoffset="16.55"/>
<rect x="47.7" y="2262.2" width="14" height="14" fill="#000000"/>
<rect x="132.25" y="2177.86" width="14" height="14" fill="#000000"/>
<rect x="216.8" y="2155.86" width="14" height="14" fill="#000000"/>
<rect x="301.35" y="2134.29" width="14" height="14" fill="#000000"/>
<rect x="385.9" y="2112.73" width="14" height="14" fill="#000000"/>
<rect x="470.45" y="2089.68" width="14" height="14" fill="#000000"/>
<rect x="555" y="2063.48" width="14" height="14" fill="#000000"/>
<rect x="639.55" y="2036.94" width="14" height="14" fill="#000000"/>
<rect x="724.1" y="2006.12" width="14" height="14" fill="#000000"/>
<rect x="808.65" y="1971.72" width="14" height="14" fill="#000000"/>
<rect x="893.2" y="1934.09" width="14" height="14" fill="#000000"/>
<rect x="977.75" y="1893.66" width="14" height="14" fill="#000000"/>
<rect x="1062.3" y="1847.48" width="14" height="14" fill="#000000"/>
<rect x="1146.85" y="1796.66" width="14" height="14" fill="#000000"/>
<rect x="1231.4" y="1740" width="14" height="14" fill="#000000"/>
<rect x="1315.95" y="1677.22" width="14" height="14" fill="#000000"/>
<path d="M54.7,2269.2C82.88,2252.47 111.07,2235.73 139.25,2227.03C167.43,2218.33 195.62,2217.66 223.8,2215.24C251.98,2212.83 280.17,2208.67 308.35,2205.03C336.53,2201.38 364.72,2198.25 392.9,2194.46C421.08,2190.68 449.27,2186.25 477.45,2182.06C505.63,2177.88 533.82,2173.93 562,2169.67C590.18,2165.4 618.37,2160.81 646.55,2155.87C674.73,2150.93 702.92,2145.65 731.1,2140.33C759.28,2135.01 787.47,2129.66 815.65,2123.83C843.83,2118 872.02,2111.7 900.2,2104.97C928.38,2098.24 956.57,2091.08 984.75,2083.93C1012.93,2076.77 1041.12,2069.62 1069.3,2061.66C1097.48,2053.71 1125.67,2044.96 1153.85,2035.82C1182.03,2026.68 1210.22,2017.16 1238.4,2007.1C1266.58,1997.03 1294.77,1986.44 1322.95,1975.84" stroke="#FF0000" stroke-width="4.2" stroke-linecap="round" stroke-dasharray="5.0 21.5" fill="none" stroke-dashoffset="19.11"/>
<circle cx="54.7" cy="2269.2" r="7.2" fill="#FF0000"/>
<circle cx="139.25" cy="2227.03" r="7.2" fill="#FF0000"/>
<circle cx="223.8" cy="2215.24" r="7.2" fill="#FF0000"/>
<circle cx="308.35" cy="2205.03" r="7.2" fill="#FF0000"/>
<circle cx="392.9" cy="2194.46" r="7.2" fill="#FF0000"/>
<circle cx="477.45" cy="2182.06" r="7.2" fill="#FF0000"/>
<circle cx="562" cy="2169.67" r="7.2" fill="#FF0000"/>
<circle cx="646.55" cy="2155.87" r="7.2" fill="#FF0000"/>
<circle cx="731.1" cy="2140.33" r="7.2" fill="#FF0000"/>
<circle cx="815.65" cy="2123.83" r="7.2" fill="#FF0000"/>
<circle cx="900.2" cy="2104.97" r="7.2" fill="#FF0000"/>
<circle cx="984.75" cy="2083.93" r="7.2" fill="#FF0000"/>
<circle cx="1069.3" cy="2061.66" r="7.2" fill="#FF0000"/>
<circle cx="1153.85" cy="2035.82" r="7.2" fill="#FF0000"/>
<circle cx="1238.4" cy="2007.1" r="7.2" fill="#FF0000"/>
<circle cx="1322.95" cy="1975.84" r="7.2" fill="#FF0000"/>
<path d="M54.7,2269.2C82.88,2259.62 111.07,2250.04 139.25,2245.28C167.43,2240.51 195.62,2240.57 223.8,2239.86C251.98,2239.16 280.17,2237.71 308.35,2235.93C336.53,2234.16 364.72,2232.08 392.9,2229.91C421.08,2227.74 449.27,2225.49 477.45,2223.45C505.63,2221.41 533.82,2219.59 562,2217.51C590.18,2215.44 618.37,2213.11 646.55,2210.61C674.73,2208.12 702.92,2205.48 731.1,2202.84C759.28,2200.21 787.47,2197.6 815.65,2194.46C843.83,2191.32 872.02,2187.66 900.2,2184.42C928.38,2181.18 956.57,2178.37 984.75,2174.82C1012.93,2171.27 1041.12,2166.99 1069.3,2162.68C1097.48,2158.38 1125.67,2154.04 1153.85,2149.59C1182.03,2145.13 1210.22,2140.54 1238.4,2135.62C1266.58,2130.69 1294.77,2125.43 1322.95,2120.16" stroke="#00FF00" stroke-width="4.2" stroke-linecap="round" stroke-dasharray="5.0 21.5" fill="none" stroke-dashoffset="20.09"/>
<polygon points="54.7,2261.7 63.2,2276.7 46.2,2276.7" fill="#00FF00"/>
<polygon points="139.25,2237.78 147.75,2252.78 130.75,2252.78" fill="#00FF00"/>
<polygon points="223.8,2232.36 232.3,2247.36 215.3,2247.36" fill="#00FF00"/>
<polygon points="308.35,2228.43 316.85,2243.43 299.85,2243.43" fill="#00FF00"/>
<polygon points="392.9,2222.41 401.4,2237.41 384.4,2237.41" fill="#00FF00"/>
<polygon points="477.45,2215.95 485.95,2230.95 468.95,2230.95" fill="#00FF00"/>
<polygon points="562,2210.01 570.5,2225.01 553.5,2225.01" fill="#00FF00"/>
<polygon points="646.55,2203.11 655.05,2218.11 638.05,2218.11" fill="#00FF00"/>
<polygon points="731.1,2195.34 739.6,2210.34 722.6,2210.34" fill="#00FF00"/>
<polygon points="815.65,2186.96 824.15,2201.96 807.15,2201.96" fill="#00FF00"/>
<polygon points="900.2,2176.92 908.7,2191.92 891.7,2191.92" fill="#00FF00"/>
<polygon points="984.75,2167.32 993.25,2182.32 976.25,2182.32" fill="#00FF00"/>
<polygon points="1069.3,2155.18 1077.8,2170.18 1060.8,2170.18" fill="#00FF00"/>
<polygon points="1153.85,2142.09 1162.35,2157.09 1145.35,2157.09" fill="#00FF00"/>
<polygon points="1238.4,2128.12 1246.9,2143.12 1229.9,2143.12" fill="#00FF00"/>
<polygon points="1322.95,2112.66 1331.45,2127.66 1314.45,2127.66" fill="#00FF00"/>
<path d="M54.7,2269.2C82.88,2263.6 111.07,2257.99 139.25,2255.19C167.43,2252.38 195.62,2252.37 223.8,2251.62C251.98,2250.88 280.17,2249.4 308.35,2248.13C336.53,2246.86 364.72,2245.79 392.9,2244.64C421.08,2243.49 449.27,2242.25 477.45,2240.9C505.63,2239.55 533.82,2238.07 562,2236.66C590.18,2235.24 618.37,2233.88 646.55,2232.36C674.73,2230.83 702.92,2229.14 731.1,2227.37C759.28,2225.59 787.47,2223.74 815.65,2221.79C843.83,2219.84 872.02,2217.79 900.2,2215.7C928.38,2213.61 956.57,2211.48 984.75,2209.15C1012.93,2206.82 1041.12,2204.29 1069.3,2201.67C1097.48,2199.04 1125.67,2196.32 1153.85,2193.43C1182.03,2190.55 1210.22,2187.51 1238.4,2184.25C1266.58,2181 1294.77,2177.54 1322.95,2174.08" stroke="#0000FF" stroke-width="4.2" stroke-linecap="round" stroke-dasharray="5.0 21.5" fill="none" stroke-dashoffset="11.45"/>
<polygon points="54.7,2276.7 63.2,2261.7 46.2,2261.7" fill="#0000FF"/>
<polygon points="139.25,2262.69 147.75,2247.69 130.75,2247.69" fill="#0000FF"/>
<polygon points="223.8,2259.12 232.3,2244.12 215.3,2244.12" fill="#0000FF"/>
<polygon points="308.35,2255.63 316.85,2240.63 299.85,2240.63" fill="#0000FF"/>
<polygon points="392.9,2252.14 401.4,2237.14 384.4,2237.14" fill="#0000FF"/>
<polygon points="477.45,2248.4 485.95,2233.4 468.95,2233.4" fill="#0000FF"/>
<polygon points="562,2244.16 570.5,2229.16 553.5,2229.16" fill="#0000FF"/>
<polygon points="646.55,2239.86 655.05,2224.86 638.05,2224.86" fill="#0000FF"/>
<polygon points="731.1,2234.87 739.6,2219.87 722.6,2219.87" fill="#0000FF"/>
<polygon points="815.65,2229.29 824.15,2214.29 807.15,2214.29" fill="#0000FF"/>
<polygon points="900.2,2223.2 908.7,2208.2 891.7,2208.2" fill="#0000FF"/>
<polygon points="984.75,2216.65 993.25,2201.65 976.25,2201.65" fill="#0000FF"/>
<polygon points="1069.3,2209.17 1077.8,2194.17 1060.8,2194.17" fill="#0000FF"/>
<polygon points="1153.85,2200.93 1162.35,2185.93 1145.35,2185.93" fill="#0000FF"/>
<polygon points="1238.4,2191.75 1246.9,2176.75 1229.9,2176.75" fill="#0000FF"/>
<polygon points="1322.95,2181.58 1331.45,2166.58 1314.45,2166.58" fill="#0000FF"/>
<path d="M54.7,2269.2C82.88,2264.78 111.07,2260.35 139.25,2258.3C167.43,2256.25 195.62,2256.56 223.8,2256.25C251.98,2255.95 280.17,2255.01 308.35,2254.25C336.53,2253.49 364.72,2252.89 392.9,2252.24C421.08,2251.59 449.27,2250.88 477.45,2250.1C505.63,2249.32 533.82,2248.48 562,2247.66C590.18,2246.85 618.37,2246.07 646.55,2245.19C674.73,2244.32 702.92,2243.35 731.1,2242.33C759.28,2241.31 787.47,2240.25 815.65,2239.13C843.83,2238.01 872.02,2236.83 900.2,2235.63C928.38,2234.43 956.57,2233.21 984.75,2231.87C1012.93,2230.53 1041.12,2229.08 1069.3,2227.57C1097.48,2226.07 1125.67,2224.5 1153.85,2222.85C1182.03,2221.19 1210.22,2219.45 1238.4,2217.58C1266.58,2215.71 1294.77,2213.73 1322.95,2211.74" stroke="#00FFFF" stroke-width="4.2" stroke-linecap="round" stroke-dasharray="5.0 21.5" fill="none" stroke-dashoffset="12.41"/>
<polygon points="54.7,2260 64.2,2269.2 54.7,2278.4 45.2,2269.2" fill="#00FFFF"/>
<polygon points="139.25,2249.1 148.75,2258.3 139.25,2267.5 129.75,2258.3" fill="#00FFFF"/>
<polygon points="223.8,2247.05 233.3,2256.25 223.8,2265.45 214.3,2256.25" fill="#00FFFF"/>
<polygon points="308.35,2245.05 317.85,2254.25 308.35,2263.45 298.85,2254.25" fill="#00FFFF"/>
<polygon points="392.9,2243.04 402.4,2252.24 392.9,2261.44 383.4,2252.24" fill="#00FFFF"/>
<polygon points="477.45,2240.9 486.95,2250.1 477.45,2259.3 467.95,2250.1" fill="#00FFFF"/>
<polygon points="562,2238.46 571.5,2247.66 562,2256.86 552.5,2247.66" fill="#00FFFF"/>
<polygon points="646.55,2235.99 656.05,2245.19 646.55,2254.39 637.05,2245.19" fill="#00FFFF"/>
<polygon points="731.1,2233.13 740.6,2242.33 731.1,2251.53 721.6,2242.33" fill="#00FFFF"/>
<polygon points="815.65,2229.93 825.15,2239.13 815.65,2248.33 806.15,2239.13" fill="#00FFFF"/>
<polygon points="900.2,2226.43 909.7,2235.63 900.2,2244.83 890.7,2235.63" fill="#00FFFF"/>
<polygon points="984.75,2222.67 994.25,2231.87 984.75,2241.07 975.25,2231.87" fill="#00FFFF"/>
<polygon points="1069.3,2218.37 1078.8,2227.57 1069.3,2236.77 1059.8,2227.57" fill="#00FFFF"/>
<polygon points="1153.85,2213.65 1163.35,2222.85 1153.85,2232.05 1144.35,2222.85" fill="#00FFFF"/>
<polygon points="1238.4,2208.38 1247.9,2217.58 1238.4,2226.78 1228.9,2217.58" fill="#00FFFF"/>
<polygon points="1322.95,2202.54 1332.45,2211.74 1322.95,2220.94 1313.45,2211.74" fill="#00FFFF"/>
<path d="M54.7,2269.2C82.88,2264.42 111.07,2259.65 139.25,2257.44C167.43,2255.24 195.62,2255.6 223.8,2255.29C251.98,2254.97 280.17,2253.98 308.35,2253.17C336.53,2252.37 364.72,2251.75 392.9,2251.06C421.08,2250.37 449.27,2249.62 477.45,2248.8C505.63,2247.98 533.82,2247.09 562,2246.23C590.18,2245.38 618.37,2244.56 646.55,2243.63C674.73,2242.71 702.92,2241.68 731.1,2240.61C759.28,2239.54 787.47,2238.42 815.65,2237.24C843.83,2236.06 872.02,2234.82 900.2,2233.55C928.38,2232.29 956.57,2231 984.75,2229.59C1012.93,2228.18 1041.12,2226.65 1069.3,2225.06C1097.48,2223.48 1125.67,2221.83 1153.85,2220.08C1182.03,2218.34 1210.22,2216.5 1238.4,2214.53C1266.58,2212.56 1294.77,2210.47 1322.95,2208.38" stroke="#FF00FF" stroke-width="4.2" stroke-linecap="round" stroke-dasharray="5.0 21.5" fill="none" stroke-dashoffset="12.26"/>
<polygon points="46.9,2269.2 62.5,2260.4 62.5,2278" fill="#FF00FF"/>
<polygon points="131.45,2257.44 147.05,2248.64 147.05,2266.24" fill="#FF00FF"/>
<polygon points="216,2255.29 231.6,2246.49 231.6,2264.09" fill="#FF00FF"/>
<polygon points="300.55,2253.17 316.15,2244.37 316.15,2261.97" fill="#FF00FF"/>
<polygon points="385.1,2251.06 400.7,2242.26 400.7,2259.86" fill="#FF00FF"/>
<polygon points="469.65,2248.8 485.25,2240 485.25,2257.6" fill="#FF00FF"/>
<polygon points="554.2,2246.23 569.8,2237.43 569.8,2255.03" fill="#FF00FF"/>
<polygon points="638.75,2243.63 654.35,2234.83 654.35,2252.43" fill="#FF00FF"/>
<polygon points="723.3,2240.61 738.9,2231.81 738.9,2249.41" fill="#FF00FF"/>
<polygon points="807.85,2237.24 823.45,2228.44 823.45,2246.04" fill="#FF00FF"/>
<polygon points="892.4,2233.55 908,2224.75 908,2242.35" fill="#FF00FF"/>
<polygon points="976.95,2229.59 992.55,2220.79 992.55,2238.39" fill="#FF00FF"/>
<polygon points="1061.5,2225.06 1077.1,2216.26 1077.1,2233.86" fill="#FF00FF"/>
<polygon points="1146.05,2220.08 1161.65,2211.28 1161.65,2228.88" fill="#FF00FF"/>
<polygon points="1230.6,2214.53 1246.2,2205.73 1246.2,2223.33" fill="#FF00FF"/>
<polygon points="1315.15,2208.38 1330.75,2199.58 1330.75,2217.18" fill="#FF00FF"/>
<path d="M54.7,2269.2C82.88,2265.23 111.07,2261.26 139.25,2259.41C167.43,2257.56 195.62,2257.83 223.8,2257.54C251.98,2257.25 280.17,2256.4 308.35,2255.71C336.53,2255.01 364.72,2254.47 392.9,2253.88C421.08,2253.28 449.27,2252.63 477.45,2251.92C505.63,2251.2 533.82,2250.43 562,2249.69C590.18,2248.95 618.37,2248.23 646.55,2247.43C674.73,2246.63 702.92,2245.74 731.1,2244.81C759.28,2243.88 787.47,2242.91 815.65,2241.89C843.83,2240.87 872.02,2239.79 900.2,2238.69C928.38,2237.59 956.57,2236.48 984.75,2235.26C1012.93,2234.03 1041.12,2232.71 1069.3,2231.33C1097.48,2229.95 1125.67,2228.52 1153.85,2227.01C1182.03,2225.5 1210.22,2223.9 1238.4,2222.19C1266.58,2220.49 1294.77,2218.67 1322.95,2216.86" stroke="#FFFF00" stroke-width="4.2" stroke-linecap="round" stroke-dasharray="5.0 21.5" fill="none" stroke-dashoffset="12.59"/>
<polygon points="62.5,2269.2 46.9,2260.4 46.9,2278" fill="#FFFF00"/>
<polygon points="147.05,2259.41 131.45,2250.61 131.45,2268.21" fill="#FFFF00"/>
<polygon points="231.6,2257.54 216,2248.74 216,2266.34" fill="#FFFF00"/>
<polygon points="316.15,2255.71 300.55,2246.91 300.55,2264.51" fill="#FFFF00"/>
<polygon points="400.7,2253.88 385.1,2245.08 385.1,2262.68" fill="#FFFF00"/>
<polygon points="485.25,2251.92 469.65,2243.12 469.65,2260.72" fill="#FFFF00"/>
<polygon points="569.8,2249.69 554.2,2240.89 554.2,2258.49" fill="#FFFF00"/>
<polygon points="654.35,2247.43 638.75,2238.63 638.75,2256.23" fill="#FFFF00"/>
<polygon points="738.9,2244.81 723.3,2236.01 723.3,2253.61" fill="#FFFF00"/>
<polygon points="823.45,2241.89 807.85,2233.09 807.85,2250.69" fill="#FFFF00"/>
<polygon points="908,2238.69 892.4,2229.89 892.4,2247.49" fill="#FFFF00"/>
<polygon points="992.55,2235.26 976.95,2226.46 976.95,2244.06" fill="#FFFF00"/>
<polygon points="1077.1,2231.33 1061.5,2222.53 1061.5,2240.13" fill="#FFFF00"/>
<polygon points="1161.65,2227.01 1146.05,2218.21 1146.05,2235.81" fill="#FFFF00"/>
<polygon points="1246.2,2222.19 1230.6,2213.39 1230.6,2230.99" fill="#FFFF00"/>
<polygon points="1330.75,2216.86 1315.15,2208.06 1315.15,2225.66" fill="#FFFF00"/>
<path d="M54.7,2269.2C82.88,2265.82 111.07,2262.44 139.25,2260.86C167.43,2259.28 195.62,2259.51 223.8,2259.25C251.98,2259 280.17,2258.28 308.35,2257.68C336.53,2257.08 364.72,2256.62 392.9,2256.11C421.08,2255.59 449.27,2255.03 477.45,2254.42C505.63,2253.81 533.82,2253.15 562,2252.51C590.18,2251.87 618.37,2251.26 646.55,2250.57C674.73,2249.89 702.92,2249.12 731.1,2248.32C759.28,2247.52 787.47,2246.69 815.65,2245.81C843.83,2244.93 872.02,2244.01 900.2,2243.07C928.38,2242.12 956.57,2241.16 984.75,2240.11C1012.93,2239.06 1041.12,2237.93 1069.3,2236.74C1097.48,2235.56 1125.67,2234.33 1153.85,2233.03C1182.03,2231.73 1210.22,2230.36 1238.4,2228.9C1266.58,2227.43 1294.77,2225.87 1322.95,2224.31" stroke="#808000" stroke-width="4.2" stroke-linecap="round" stroke-dasharray="5.0 21.5" fill="none" stroke-dashoffset="12.81"/>
<polygon points="54.7,2261.1 62,2265.15 62,2273.25 54.7,2277.3 47.4,2273.25 47.4,2265.15" fill="#808000"/>
<polygon points="139.25,2252.76 146.55,2256.81 146.55,2264.91 139.25,2268.96 131.95,2264.91 131.95,2256.81" fill="#808000"/>
<polygon points="223.8,2251.15 231.1,2255.2 231.1,2263.3 223.8,2267.35 216.5,2263.3 216.5,2255.2" fill="#808000"/>
<polygon points="308.35,2249.58 315.65,2253.63 315.65,2261.73 308.35,2265.78 301.05,2261.73 301.05,2253.63" fill="#808000"/>
<polygon points="392.9,2248.01 400.2,2252.06 400.2,2260.16 392.9,2264.21 385.6,2260.16 385.6,2252.06" fill="#808000"/>
<polygon points="477.45,2246.32 484.75,2250.37 484.75,2258.47 477.45,2262.52 470.15,2258.47 470.15,2250.37" fill="#808000"/>
<polygon points="562,2244.41 569.3,2248.46 569.3,2256.56 562,2260.61 554.7,2256.56 554.7,2248.46" fill="#808000"/>
<polygon points="646.55,2242.47 653.85,2246.52 653.85,2254.62 646.55,2258.67 639.25,2254.62 639.25,2246.52" fill="#808000"/>
<polygon points="731.1,2240.22 738.4,2244.27 738.4,2252.37 731.1,2256.42 723.8,2252.37 723.8,2244.27" fill="#808000"/>
<polygon points="815.65,2237.71 822.95,2241.76 822.95,2249.86 815.65,2253.91 808.35,2249.86 808.35,2241.76" fill="#808000"/>
<polygon points="900.2,2234.97 907.5,2239.02 907.5,2247.12 900.2,2251.17 892.9,2247.12 892.9,2239.02" fill="#808000"/>
<polygon points="984.75,2232.01 992.05,2236.06 992.05,2244.16 984.75,2248.21 977.45,2244.16 977.45,2236.06" fill="#808000"/>
<polygon points="1069.3,2228.64 1076.6,2232.69 1076.6,2240.79 1069.3,2244.84 1062,2240.79 1062,2232.69" fill="#808000"/>
<polygon points="1153.85,2224.93 1161.15,2228.98 1161.15,2237.08 1153.85,2241.13 1146.55,2237.08 1146.55,2228.98" fill="#808000"/>
<polygon points="1238.4,2220.8 1245.7,2224.85 1245.7,2232.95 1238.4,2237 1231.1,2232.95 1231.1,2224.85" fill="#808000"/>
<polygon points="1322.95,2216.21 1330.25,2220.26 1330.25,2228.36 1322.95,2232.41 1315.65,2228.36 1315.65,2220.26" fill="#808000"/>
<path d="M54.7,2269.2C82.88,2266.31 111.07,2263.41 139.25,2262.06C167.43,2260.7 195.62,2260.88 223.8,2260.65C251.98,2260.42 280.17,2259.79 308.35,2259.27C336.53,2258.75 364.72,2258.34 392.9,2257.89C421.08,2257.44 449.27,2256.95 477.45,2256.41C505.63,2255.88 533.82,2255.29 562,2254.74C590.18,2254.18 618.37,2253.64 646.55,2253.04C674.73,2252.43 702.92,2251.76 731.1,2251.06C759.28,2250.36 787.47,2249.63 815.65,2248.86C843.83,2248.09 872.02,2247.28 900.2,2246.45C928.38,2245.63 956.57,2244.79 984.75,2243.87C1012.93,2242.95 1041.12,2241.95 1069.3,2240.91C1097.48,2239.87 1125.67,2238.8 1153.85,2237.66C1182.03,2236.52 1210.22,2235.32 1238.4,2234.03C1266.58,2232.75 1294.77,2231.38 1322.95,2230.02" stroke="#000080" stroke-width="4.2" stroke-linecap="round" stroke-dasharray="5.0 21.5" fill="none" stroke-dashoffset="12.96"/>
<polygon points="54.7,2261.1 56.79,2267.12 63.16,2267.25 58.09,2271.1 59.93,2277.2 54.7,2273.56 49.47,2277.2 51.31,2271.1 46.24,2267.25 52.61,2267.12" fill="#000080"/>
<polygon points="139.25,2253.96 141.34,2259.98 147.71,2260.11 142.64,2263.96 144.48,2270.06 139.25,2266.42 134.02,2270.06 135.86,2263.96 130.79,2260.11 137.16,2259.98" fill="#000080"/>
<polygon points="223.8,2252.55 225.89,2258.57 232.26,2258.7 227.19,2262.55 229.03,2268.65 223.8,2265.01 218.57,2268.65 220.41,2262.55 215.34,2258.7 221.71,2258.57" fill="#000080"/>
<polygon points="308.35,2251.17 310.44,2257.19 316.81,2257.32 311.74,2261.17 313.58,2267.27 308.35,2263.63 303.12,2267.27 304.96,2261.17 299.89,2257.32 306.26,2257.19" fill="#000080"/>
<polygon points="392.9,2249.79 394.99,2255.81 401.36,2255.94 396.29,2259.79 398.13,2265.89 392.9,2262.25 387.67,2265.89 389.51,2259.79 384.44,2255.94 390.81,2255.81" fill="#000080"/>
<polygon points="477.45,2248.31 479.54,2254.33 485.91,2254.46 480.84,2258.31 482.68,2264.41 477.45,2260.77 472.22,2264.41 474.06,2258.31 468.99,2254.46 475.36,2254.33" fill="#000080"/>
<polygon points="562,2246.64 564.09,2252.66 570.46,2252.79 565.39,2256.64 567.23,2262.74 562,2259.1 556.77,2262.74 558.61,2256.64 553.54,2252.79 559.91,2252.66" fill="#000080"/>
<polygon points="646.55,2244.94 648.64,2250.96 655.01,2251.09 649.94,2254.94 651.78,2261.04 646.55,2257.4 641.32,2261.04 643.16,2254.94 638.09,2251.09 644.46,2250.96" fill="#000080"/>
<polygon points="731.1,2242.96 733.19,2248.98 739.56,2249.11 734.49,2252.96 736.33,2259.06 731.1,2255.42 725.87,2259.06 727.71,2252.96 722.64,2249.11 729.01,2248.98" fill="#000080"/>
<polygon points="815.65,2240.76 817.74,2246.78 824.11,2246.91 819.04,2250.76 820.88,2256.86 815.65,2253.22 810.42,2256.86 812.26,2250.76 807.19,2246.91 813.56,2246.78" fill="#000080"/>
<polygon points="900.2,2238.35 902.29,2244.37 908.66,2244.5 903.59,2248.35 905.43,2254.45 900.2,2250.81 894.97,2254.45 896.81,2248.35 891.74,2244.5 898.11,2244.37" fill="#000080"/>
<polygon points="984.75,2235.77 986.84,2241.79 993.21,2241.92 988.14,2245.77 989.98,2251.87 984.75,2248.23 979.52,2251.87 981.36,2245.77 976.29,2241.92 982.66,2241.79" fill="#000080"/>
<polygon points="1069.3,2232.81 1071.39,2238.83 1077.76,2238.96 1072.69,2242.81 1074.53,2248.91 1069.3,2245.27 1064.07,2248.91 1065.91,2242.81 1060.84,2238.96 1067.21,2238.83" fill="#000080"/>
<polygon points="1153.85,2229.56 1155.94,2235.58 1162.31,2235.71 1157.24,2239.56 1159.08,2245.66 1153.85,2242.02 1148.62,2245.66 1150.46,2239.56 1145.39,2235.71 1151.76,2235.58" fill="#000080"/>
<polygon points="1238.4,2225.93 1240.49,2231.95 1246.86,2232.08 1241.79,2235.93 1243.63,2242.03 1238.4,2238.39 1233.17,2242.03 1235.01,2235.93 1229.94,2232.08 1236.31,2231.95" fill="#000080"/>
<polygon points="1322.95,2221.92 1325.04,2227.94 1331.41,2228.07 1326.34,2231.92 1328.18,2238.02 1322.95,2234.38 1317.72,2238.02 1319.56,2231.92 1314.49,2228.07 1320.86,2227.94" fill="#000080"/>
<path d="M54.7,2269.2C82.88,2266.79 111.07,2264.39 139.25,2263.25C167.43,2262.11 195.62,2262.24 223.8,2262.04C251.98,2261.84 280.17,2261.3 308.35,2260.86C336.53,2260.41 364.72,2260.06 392.9,2259.67C421.08,2259.28 449.27,2258.86 477.45,2258.4C505.63,2257.94 533.82,2257.44 562,2256.96C590.18,2256.48 618.37,2256.02 646.55,2255.5C674.73,2254.98 702.92,2254.41 731.1,2253.81C759.28,2253.2 787.47,2252.58 815.65,2251.91C843.83,2251.25 872.02,2250.55 900.2,2249.84C928.38,2249.13 956.57,2248.41 984.75,2247.62C1012.93,2246.83 1041.12,2245.97 1069.3,2245.08C1097.48,2244.19 1125.67,2243.26 1153.85,2242.29C1182.03,2241.31 1210.22,2240.27 1238.4,2239.17C1266.58,2238.07 1294.77,2236.89 1322.95,2235.72" stroke="#800080" stroke-width="4.2" stroke-linecap="round" stroke-dasharray="5.0 21.5" fill="none" stroke-dashoffset="13.08"/>
<polygon points="54.7,2260.8 63.16,2266.95 59.93,2276.9 49.47,2276.9 46.24,2266.95" fill="#800080"/>
<polygon points="139.25,2254.85 147.71,2261 144.48,2270.95 134.02,2270.95 130.79,2261" fill="#800080"/>
<polygon points="223.8,2253.64 232.26,2259.79 229.03,2269.74 218.57,2269.74 215.34,2259.79" fill="#800080"/>
<polygon points="308.35,2252.46 316.81,2258.61 313.58,2268.56 303.12,2268.56 299.89,2258.61" fill="#800080"/>
<polygon points="392.9,2251.27 401.36,2257.42 398.13,2267.37 387.67,2267.37 384.44,2257.42" fill="#800080"/>
<polygon points="477.45,2250 485.91,2256.15 482.68,2266.1 472.22,2266.1 468.99,2256.15" fill="#800080"/>
<polygon points="562,2248.56 570.46,2254.71 567.23,2264.66 556.77,2264.66 553.54,2254.71" fill="#800080"/>
<polygon points="646.55,2247.1 655.01,2253.25 651.78,2263.2 641.32,2263.2 638.09,2253.25" fill="#800080"/>
<polygon points="731.1,2245.41 739.56,2251.56 736.33,2261.51 725.87,2261.51 722.64,2251.56" fill="#800080"/>
<polygon points="815.65,2243.51 824.11,2249.66 820.88,2259.61 810.42,2259.61 807.19,2249.66" fill="#800080"/>
<polygon points="900.2,2241.44 908.66,2247.59 905.43,2257.54 894.97,2257.54 891.74,2247.59" fill="#800080"/>
<polygon points="984.75,2239.22 993.21,2245.37 989.98,2255.32 979.52,2255.32 976.29,2245.37" fill="#800080"/>
<polygon points="1069.3,2236.68 1077.76,2242.83 1074.53,2252.78 1064.07,2252.78 1060.84,2242.83" fill="#800080"/>
<polygon points="1153.85,2233.89 1162.31,2240.04 1159.08,2249.99 1148.62,2249.99 1145.39,2240.04" fill="#800080"/>
<polygon points="1238.4,2230.77 1246.86,2236.92 1243.63,2246.87 1233.17,2246.87 1229.94,2236.92" fill="#800080"/>
<polygon points="1322.95,2227.32 1331.41,2233.47 1328.18,2243.42 1317.72,2243.42 1314.49,2233.47" fill="#800080"/>
<path d="M76.6,1674.4 h4.6 M129,1674.4 h4.6" stroke="#000000" stroke-width="4.4" stroke-linecap="round" fill="none"/>
<rect x="100.7" y="1667.4" width="14" height="14" fill="#000000"/>
<text x="137.4" y="1686" font-size="34.5"><tspan font-style="italic">η</tspan><tspan font-size="23" dy="8.5">2</tspan><tspan dy="-8.5"> =0.1</tspan></text>
<path d="M256.4,1674.4 h4.6 M308.8,1674.4 h4.6" stroke="#FF0000" stroke-width="4.4" stroke-linecap="round" fill="none"/>
<circle cx="287.5" cy="1674.4" r="7.2" fill="#FF0000"/>
<text x="317.2" y="1686" font-size="34.5"><tspan font-style="italic">η</tspan><tspan font-size="23" dy="8.5">2</tspan><tspan dy="-8.5"> =0.2</tspan></text>
<path d="M435.5,1674.4 h4.6 M487.9,1674.4 h4.6" stroke="#00FF00" stroke-width="4.4" stroke-linecap="round" fill="none"/>
<polygon points="466.6,1666.9 475.1,1681.9 458.1,1681.9" fill="#00FF00"/>
<text x="496.3" y="1686" font-size="34.5"><tspan font-style="italic">η</tspan><tspan font-size="23" dy="8.5">2</tspan><tspan dy="-8.5"> =0.4</tspan></text>
<path d="M615.6,1674.4 h4.6 M668,1674.4 h4.6" stroke="#0000FF" stroke-width="4.4" stroke-linecap="round" fill="none"/>
<polygon points="646.7,1681.9 655.2,1666.9 638.2,1666.9" fill="#0000FF"/>
<text x="676.4" y="1686" font-size="34.5"><tspan font-style="italic">η</tspan> =0.6</text>
<path d="M782.6,1674.4 h4.6 M835,1674.4 h4.6" stroke="#00FFFF" stroke-width="4.4" stroke-linecap="round" fill="none"/>
<polygon points="813.7,1665.2 823.2,1674.4 813.7,1683.6 804.2,1674.4" fill="#00FFFF"/>
<text x="843.4" y="1686" font-size="34.5"><tspan font-style="italic">η</tspan><tspan font-size="23" dy="8.5">2</tspan><tspan dy="-8.5"> =0.8</tspan></text>
<path d="M76.6,1725 h4.6 M129,1725 h4.6" stroke="#FF00FF" stroke-width="4.4" stroke-linecap="round" fill="none"/>
<polygon points="99.9,1725 115.5,1716.2 115.5,1733.8" fill="#FF00FF"/>
<text x="137.4" y="1736.6" font-size="34.5"><tspan font-style="italic">η</tspan><tspan font-size="23" dy="8.5">2</tspan><tspan dy="-8.5"> =1.0</tspan></text>
<path d="M256.4,1725 h4.6 M308.8,1725 h4.6" stroke="#FFFF00" stroke-width="4.4" stroke-linecap="round" fill="none"/>
<polygon points="295.3,1725 279.7,1716.2 279.7,1733.8" fill="#FFFF00"/>
<text x="317.2" y="1736.6" font-size="34.5"><tspan font-style="italic">η</tspan><tspan font-size="23" dy="8.5">2</tspan><tspan dy="-8.5"> =1.2</tspan></text>
<path d="M435.5,1725 h4.6 M487.9,1725 h4.6" stroke="#808000" stroke-width="4.4" stroke-linecap="round" fill="none"/>
<polygon points="466.6,1716.9 473.9,1720.95 473.9,1729.05 466.6,1733.1 459.3,1729.05 459.3,1720.95" fill="#808000"/>
<text x="496.3" y="1736.6" font-size="34.5"><tspan font-style="italic">η</tspan><tspan font-size="23" dy="8.5">2</tspan><tspan dy="-8.5"> =1.4</tspan></text>
<path d="M615.6,1725 h4.6 M668,1725 h4.6" stroke="#000080" stroke-width="4.4" stroke-linecap="round" fill="none"/>
<polygon points="646.7,1716.9 648.79,1722.92 655.16,1723.05 650.09,1726.9 651.93,1733 646.7,1729.36 641.47,1733 643.31,1726.9 638.24,1723.05 644.61,1722.92" fill="#000080"/>
<text x="676.4" y="1736.6" font-size="34.5"><tspan font-style="italic">η</tspan> =1.6</text>
<path d="M782.6,1725 h4.6 M835,1725 h4.6" stroke="#800080" stroke-width="4.4" stroke-linecap="round" fill="none"/>
<polygon points="813.7,1716.6 822.16,1722.75 818.93,1732.7 808.47,1732.7 805.24,1722.75" fill="#800080"/>
<text x="843.4" y="1736.6" font-size="34.5"><tspan font-style="italic">η</tspan><tspan font-size="23" dy="8.5">2</tspan><tspan dy="-8.5"> =1.8</tspan></text>
<text x="0" y="0" font-size="40" font-style="italic" text-anchor="middle" transform="translate(22.4,1964.5) rotate(-90)">ε</text>
<text x="649.2" y="2347" font-size="40.3">Time/<tspan font-style="italic">h</tspan></text>
<text x="604.3" y="2392.6" font-size="39">c. parameter <tspan font-style="italic" font-weight="bold">η</tspan><tspan font-style="italic" font-weight="bold" font-size="26" dy="5.5">2</tspan></text>
</svg>
</body></html>
